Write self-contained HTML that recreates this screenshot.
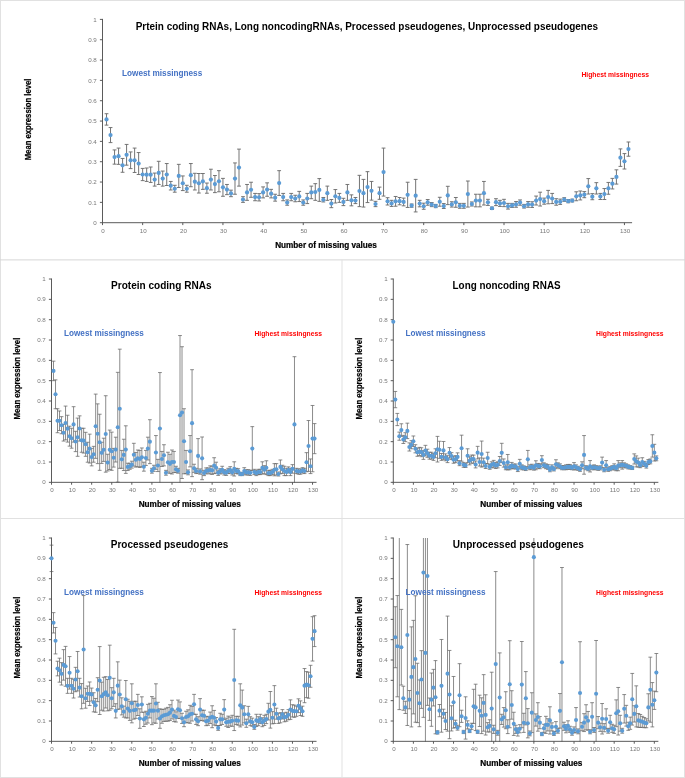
<!DOCTYPE html>
<html lang="en"><head><meta charset="utf-8"><title>Mean expression level vs number of missing values</title>
<style>html,body{margin:0;padding:0;background:#fff}body{width:685px;height:778px;overflow:hidden}svg{display:block}text{font-family:"Liberation Sans",Arial,sans-serif}.tk{font-size:6.2px;fill:#787878}.b{font-weight:bold}.ax{stroke:#525252;stroke-width:0.95;fill:none}.lo{fill:#4472c4;font-weight:bold;font-size:8.8px}.hi{fill:#ff0000;font-weight:bold;font-size:7.9px}.ti{font-weight:bold;font-size:10.2px;fill:#000}.at{font-weight:bold;font-size:8.2px;fill:#000;stroke:#000;stroke-width:0.22px}</style></head><body>
<svg width="685" height="778" viewBox="0 0 685 778">
<rect x="0" y="0" width="685" height="778" fill="#fff"/>
<g stroke="#e1e1e1" stroke-width="1" fill="none"><rect x="0.5" y="0.5" width="684" height="777"/><line x1="0" y1="259.9" x2="685" y2="259.9" stroke="#d6d6d6"/><line x1="0" y1="518.5" x2="685" y2="518.5"/><line x1="342" y1="259.5" x2="342" y2="778"/></g>
<g id="c1">
<clipPath id="cp1"><rect x="99.5" y="19.4" width="535.58" height="203.8"/></clipPath>
<path clip-path="url(#cp1)" d="M106.52 113.73V125.12M104.61 113.73h3.8M104.61 125.12h3.8M110.53 127.56V142.6M108.63 127.56h3.8M108.63 142.6h3.8M114.55 149.92V164.15M112.64 149.92h3.8M112.64 164.15h3.8M118.56 148.09V164.35M116.66 148.09h3.8M116.66 164.35h3.8M122.58 158.46V172.28M120.67 158.46h3.8M120.67 172.28h3.8M126.59 144.43V165.17M124.69 144.43h3.8M124.69 165.17h3.8M130.6 151.95V168.62M128.7 151.95h3.8M128.7 168.62h3.8M134.62 148.09V172.48M132.72 148.09h3.8M132.72 172.48h3.8M138.63 152.56V174.52M136.73 152.56h3.8M136.73 174.52h3.8M142.65 168.42V180.62M140.75 168.42h3.8M140.75 180.62h3.8M146.66 168.01V181.43M144.76 168.01h3.8M144.76 181.43h3.8M150.68 167V182.45M148.78 167h3.8M148.78 182.45h3.8M154.69 173.09V186.11M152.79 173.09h3.8M152.79 186.11h3.8M158.71 161.3V184.48M156.81 161.3h3.8M156.81 184.48h3.8M162.72 171.06V186.11M160.82 171.06h3.8M160.82 186.11h3.8M166.74 163.54V185.5M164.84 163.54h3.8M164.84 185.5h3.8M170.75 181.43V189.97M168.85 181.43h3.8M168.85 189.97h3.8M174.77 185.29V192.2M172.87 185.29h3.8M172.87 192.2h3.8M178.78 164.35V187.53M176.88 164.35h3.8M176.88 187.53h3.8M182.8 175.94V190.58M180.9 175.94h3.8M180.9 190.58h3.8M186.81 185.29V192.2M184.91 185.29h3.8M184.91 192.2h3.8M190.83 163.54V186.72M188.93 163.54h3.8M188.93 186.72h3.8M194.84 173.3V189.97M192.94 173.3h3.8M192.94 189.97h3.8M198.86 173.5V193.02M196.96 173.5h3.8M196.96 193.02h3.8M202.88 173.5V189.36M200.97 173.5h3.8M200.97 189.36h3.8M206.89 183.06V193.22M204.99 183.06h3.8M204.99 193.22h3.8M210.9 169.23V189.97M209 169.23h3.8M209 189.97h3.8M214.92 175.53V192.61M213.02 175.53h3.8M213.02 192.61h3.8M218.94 170.66V191.8M217.03 170.66h3.8M217.03 191.8h3.8M222.95 178.38V196.27M221.05 178.38h3.8M221.05 196.27h3.8M226.96 184.48V194.64M225.06 184.48h3.8M225.06 194.64h3.8M230.98 190.17V196.68M229.08 190.17h3.8M229.08 196.68h3.8M234.99 162.93V194.24M233.09 162.93h3.8M233.09 194.24h3.8M239.01 149.11V186.11M237.11 149.11h3.8M237.11 186.11h3.8M243.02 196.68V202.37M241.12 196.68h3.8M241.12 202.37h3.8M247.04 184.48V200.34M245.14 184.48h3.8M245.14 200.34h3.8M251.05 182.24V197.29M249.15 182.24h3.8M249.15 197.29h3.8M255.07 193.42V200.74M253.17 193.42h3.8M253.17 200.74h3.8M259.08 193.63V200.95M257.19 193.63h3.8M257.19 200.95h3.8M263.1 186.92V197.9M261.2 186.92h3.8M261.2 197.9h3.8M267.12 182.85V196.27M265.22 182.85h3.8M265.22 196.27h3.8M271.13 189.36V197.9M269.23 189.36h3.8M269.23 197.9h3.8M275.14 194.24V201.15M273.25 194.24h3.8M273.25 201.15h3.8M279.16 170.66V195.46M277.26 170.66h3.8M277.26 195.46h3.8M283.17 193.42V200.74M281.27 193.42h3.8M281.27 200.74h3.8M287.19 199.93V205.22M285.29 199.93h3.8M285.29 205.22h3.8M291.2 193.42V200.74M289.31 193.42h3.8M289.31 200.74h3.8M295.22 195.25V201.76M293.32 195.25h3.8M293.32 201.76h3.8M299.24 191.39V201.56M297.34 191.39h3.8M297.34 201.56h3.8M303.25 199.93V205.22M301.35 199.93h3.8M301.35 205.22h3.8M307.26 193.42V203.59M305.37 193.42h3.8M305.37 203.59h3.8M311.28 186.11V198.71M309.38 186.11h3.8M309.38 198.71h3.8M315.29 183.67V200.34M313.39 183.67h3.8M313.39 200.34h3.8M319.31 178.58V201.35M317.41 178.58h3.8M317.41 201.35h3.8M323.32 197.49V201.96M321.43 197.49h3.8M321.43 201.96h3.8M327.34 186.11V200.34M325.44 186.11h3.8M325.44 200.34h3.8M331.36 199.52V207.66M329.46 199.52h3.8M329.46 207.66h3.8M335.37 189.56V202.98M333.47 189.56h3.8M333.47 202.98h3.8M339.38 193.42V202.37M337.49 193.42h3.8M337.49 202.37h3.8M343.4 198.3V205.62M341.5 198.3h3.8M341.5 205.62h3.8M347.41 184.48V200.34M345.51 184.48h3.8M345.51 200.34h3.8M351.43 194.85V205.83M349.53 194.85h3.8M349.53 205.83h3.8M355.44 197.49V203.59M353.55 197.49h3.8M353.55 203.59h3.8M359.46 175.33V206.64M357.56 175.33h3.8M357.56 206.64h3.8M363.47 179.4V207.05M361.57 179.4h3.8M361.57 207.05h3.8M367.49 171.67V202.57M365.59 171.67h3.8M365.59 202.57h3.8M371.5 181.43V200.13M369.61 181.43h3.8M369.61 200.13h3.8M375.52 201.35V206.64M373.62 201.35h3.8M373.62 206.64h3.8M379.53 187.12V199.32M377.63 187.12h3.8M377.63 199.32h3.8M383.55 148.09V196.07M381.65 148.09h3.8M381.65 196.07h3.8M387.56 197.69V205.01M385.67 197.69h3.8M385.67 205.01h3.8M391.58 200.34V206.44M389.68 200.34h3.8M389.68 206.44h3.8M395.59 196.47V206.23M393.69 196.47h3.8M393.69 206.23h3.8M399.61 197.49V204.81M397.71 197.49h3.8M397.71 204.81h3.8M403.62 198.1V205.83M401.73 198.1h3.8M401.73 205.83h3.8M407.64 182.24V207.45M405.74 182.24h3.8M405.74 207.45h3.8M411.65 204V207.25M409.75 204h3.8M409.75 207.25h3.8M415.67 179.4V211.93M413.77 179.4h3.8M413.77 211.93h3.8M419.69 200.34V206.84M417.79 200.34h3.8M417.79 206.84h3.8M423.7 203.18V209.28M421.8 203.18h3.8M421.8 209.28h3.8M427.71 199.52V205.22M425.81 199.52h3.8M425.81 205.22h3.8M431.73 202.57V206.64M429.83 202.57h3.8M429.83 206.64h3.8M435.74 204.4V207.66M433.84 204.4h3.8M433.84 207.66h3.8M439.76 197.29V206.23M437.86 197.29h3.8M437.86 206.23h3.8M443.77 203.59V208.47M441.88 203.59h3.8M441.88 208.47h3.8M447.79 186.31V204.61M445.89 186.31h3.8M445.89 204.61h3.8M451.8 201.76V207.05M449.9 201.76h3.8M449.9 207.05h3.8M455.82 197.49V207.25M453.92 197.49h3.8M453.92 207.25h3.8M459.83 203.39V208.27M457.94 203.39h3.8M457.94 208.27h3.8M463.85 203.39V208.27M461.95 203.39h3.8M461.95 208.27h3.8M467.86 181.02V207.05M465.96 181.02h3.8M465.96 207.05h3.8M471.88 201.96V206.03M469.98 201.96h3.8M469.98 206.03h3.8M475.89 194.24V206.84M474 194.24h3.8M474 206.84h3.8M479.91 194.24V206.84M478.01 194.24h3.8M478.01 206.84h3.8M483.92 181.43V205.01M482.02 181.43h3.8M482.02 205.01h3.8M487.94 199.32V205.42M486.04 199.32h3.8M486.04 205.42h3.8M491.95 207.05V209.49M490.06 207.05h3.8M490.06 209.49h3.8M495.97 198.71V205.62M494.07 198.71h3.8M494.07 205.62h3.8M499.98 200.34V206.44M498.08 200.34h3.8M498.08 206.44h3.8M504 199.32V206.64M502.1 199.32h3.8M502.1 206.64h3.8M508.01 203.39V209.08M506.12 203.39h3.8M506.12 209.08h3.8M512.03 203.39V207.45M510.13 203.39h3.8M510.13 207.45h3.8M516.04 201.56V207.25M514.14 201.56h3.8M514.14 207.25h3.8M520.06 199.93V205.22M518.16 199.93h3.8M518.16 205.22h3.8M524.08 204.4V208.06M522.18 204.4h3.8M522.18 208.06h3.8M528.09 201.56V207.25M526.19 201.56h3.8M526.19 207.25h3.8M532.11 201.76V207.45M530.21 201.76h3.8M530.21 207.45h3.8M536.12 196.07V205.01M534.22 196.07h3.8M534.22 205.01h3.8M540.13 192.2V206.03M538.24 192.2h3.8M538.24 206.03h3.8M544.15 198.1V204.2M542.25 198.1h3.8M542.25 204.2h3.8M548.16 190.38V203.79M546.26 190.38h3.8M546.26 203.79h3.8M552.18 193.42V203.59M550.28 193.42h3.8M550.28 203.59h3.8M556.19 198.71V205.22M554.29 198.71h3.8M554.29 205.22h3.8M560.21 199.12V204.4M558.31 199.12h3.8M558.31 204.4h3.8M564.22 197.69V201.35M562.32 197.69h3.8M562.32 201.35h3.8M568.24 199.52V202.78M566.34 199.52h3.8M566.34 202.78h3.8M572.25 199.12V201.96M570.35 199.12h3.8M570.35 201.96h3.8M576.27 191.8V200.74M574.37 191.8h3.8M574.37 200.74h3.8M580.28 190.99V199.93M578.38 190.99h3.8M578.38 199.93h3.8M584.3 191.6V197.69M582.4 191.6h3.8M582.4 197.69h3.8M588.31 178.58V194.03M586.41 178.58h3.8M586.41 194.03h3.8M592.33 193.63V199.73M590.43 193.63h3.8M590.43 199.73h3.8M596.35 182.65V194.03M594.45 182.65h3.8M594.45 194.03h3.8M600.36 193.42V199.52M598.46 193.42h3.8M598.46 199.52h3.8M604.38 188.55V199.52M602.48 188.55h3.8M602.48 199.52h3.8M608.39 182.45V194.24M606.49 182.45h3.8M606.49 194.24h3.8M612.4 178.38V188.95M610.5 178.38h3.8M610.5 188.95h3.8M616.42 169.84V184.07M614.52 169.84h3.8M614.52 184.07h3.8M620.43 148.9V166.39M618.53 148.9h3.8M618.53 166.39h3.8M624.45 153.58V169.03M622.55 153.58h3.8M622.55 169.03h3.8M628.46 141.99V156.22M626.56 141.99h3.8M626.56 156.22h3.8" stroke="#6e6e6e" stroke-width="0.95" fill="none"/>
<path class="ax" d="M102.5 18.9V222.7M102 222.7H632.08M99.9 222.7H102.5M99.9 202.37H102.5M99.9 182.04H102.5M99.9 161.71H102.5M99.9 141.38H102.5M99.9 121.05H102.5M99.9 100.72H102.5M99.9 80.39H102.5M99.9 60.06H102.5M99.9 39.73H102.5M99.9 19.4H102.5M102.5 222.7V225.1M142.65 222.7V225.1M182.8 222.7V225.1M222.95 222.7V225.1M263.1 222.7V225.1M303.25 222.7V225.1M343.4 222.7V225.1M383.55 222.7V225.1M423.7 222.7V225.1M463.85 222.7V225.1M504 222.7V225.1M544.15 222.7V225.1M584.3 222.7V225.1M624.45 222.7V225.1"/>
<g fill="#5b9bd5" clip-path="url(#cp1)">
<circle cx="106.52" cy="119.42" r="2.1"/>
<circle cx="110.53" cy="135.08" r="2.1"/>
<circle cx="114.55" cy="157.03" r="2.1"/>
<circle cx="118.56" cy="156.22" r="2.1"/>
<circle cx="122.58" cy="165.37" r="2.1"/>
<circle cx="126.59" cy="154.8" r="2.1"/>
<circle cx="130.6" cy="160.29" r="2.1"/>
<circle cx="134.62" cy="160.29" r="2.1"/>
<circle cx="138.63" cy="163.54" r="2.1"/>
<circle cx="142.65" cy="174.52" r="2.1"/>
<circle cx="146.66" cy="174.72" r="2.1"/>
<circle cx="150.68" cy="174.72" r="2.1"/>
<circle cx="154.69" cy="179.6" r="2.1"/>
<circle cx="158.71" cy="172.89" r="2.1"/>
<circle cx="162.72" cy="178.58" r="2.1"/>
<circle cx="166.74" cy="174.52" r="2.1"/>
<circle cx="170.75" cy="185.7" r="2.1"/>
<circle cx="174.77" cy="188.75" r="2.1"/>
<circle cx="178.78" cy="175.94" r="2.1"/>
<circle cx="182.8" cy="183.26" r="2.1"/>
<circle cx="186.81" cy="188.75" r="2.1"/>
<circle cx="190.83" cy="175.13" r="2.1"/>
<circle cx="194.84" cy="181.63" r="2.1"/>
<circle cx="198.86" cy="183.26" r="2.1"/>
<circle cx="202.88" cy="181.43" r="2.1"/>
<circle cx="206.89" cy="188.14" r="2.1"/>
<circle cx="210.9" cy="179.6" r="2.1"/>
<circle cx="214.92" cy="184.07" r="2.1"/>
<circle cx="218.94" cy="181.23" r="2.1"/>
<circle cx="222.95" cy="187.33" r="2.1"/>
<circle cx="226.96" cy="189.56" r="2.1"/>
<circle cx="230.98" cy="193.42" r="2.1"/>
<circle cx="234.99" cy="178.58" r="2.1"/>
<circle cx="239.01" cy="167.61" r="2.1"/>
<circle cx="243.02" cy="199.52" r="2.1"/>
<circle cx="247.04" cy="192.41" r="2.1"/>
<circle cx="251.05" cy="189.77" r="2.1"/>
<circle cx="255.07" cy="197.08" r="2.1"/>
<circle cx="259.08" cy="197.29" r="2.1"/>
<circle cx="263.1" cy="192.41" r="2.1"/>
<circle cx="267.12" cy="189.56" r="2.1"/>
<circle cx="271.13" cy="193.63" r="2.1"/>
<circle cx="275.14" cy="197.69" r="2.1"/>
<circle cx="279.16" cy="183.06" r="2.1"/>
<circle cx="283.17" cy="197.08" r="2.1"/>
<circle cx="287.19" cy="202.57" r="2.1"/>
<circle cx="291.2" cy="197.08" r="2.1"/>
<circle cx="295.22" cy="198.51" r="2.1"/>
<circle cx="299.24" cy="196.47" r="2.1"/>
<circle cx="303.25" cy="202.57" r="2.1"/>
<circle cx="307.26" cy="198.51" r="2.1"/>
<circle cx="311.28" cy="192.41" r="2.1"/>
<circle cx="315.29" cy="192" r="2.1"/>
<circle cx="319.31" cy="189.97" r="2.1"/>
<circle cx="323.32" cy="199.73" r="2.1"/>
<circle cx="327.34" cy="193.22" r="2.1"/>
<circle cx="331.36" cy="203.59" r="2.1"/>
<circle cx="335.37" cy="196.27" r="2.1"/>
<circle cx="339.38" cy="197.9" r="2.1"/>
<circle cx="343.4" cy="201.96" r="2.1"/>
<circle cx="347.41" cy="192.41" r="2.1"/>
<circle cx="351.43" cy="200.34" r="2.1"/>
<circle cx="355.44" cy="200.54" r="2.1"/>
<circle cx="359.46" cy="190.99" r="2.1"/>
<circle cx="363.47" cy="193.22" r="2.1"/>
<circle cx="367.49" cy="187.12" r="2.1"/>
<circle cx="371.5" cy="190.78" r="2.1"/>
<circle cx="375.52" cy="204" r="2.1"/>
<circle cx="379.53" cy="193.22" r="2.1"/>
<circle cx="383.55" cy="172.08" r="2.1"/>
<circle cx="387.56" cy="201.35" r="2.1"/>
<circle cx="391.58" cy="203.39" r="2.1"/>
<circle cx="395.59" cy="201.35" r="2.1"/>
<circle cx="399.61" cy="201.15" r="2.1"/>
<circle cx="403.62" cy="201.96" r="2.1"/>
<circle cx="407.64" cy="194.85" r="2.1"/>
<circle cx="411.65" cy="205.62" r="2.1"/>
<circle cx="415.67" cy="195.66" r="2.1"/>
<circle cx="419.69" cy="203.59" r="2.1"/>
<circle cx="423.7" cy="206.23" r="2.1"/>
<circle cx="427.71" cy="202.37" r="2.1"/>
<circle cx="431.73" cy="204.61" r="2.1"/>
<circle cx="435.74" cy="206.03" r="2.1"/>
<circle cx="439.76" cy="201.76" r="2.1"/>
<circle cx="443.77" cy="206.03" r="2.1"/>
<circle cx="447.79" cy="195.46" r="2.1"/>
<circle cx="451.8" cy="204.4" r="2.1"/>
<circle cx="455.82" cy="202.37" r="2.1"/>
<circle cx="459.83" cy="205.83" r="2.1"/>
<circle cx="463.85" cy="205.83" r="2.1"/>
<circle cx="467.86" cy="194.03" r="2.1"/>
<circle cx="471.88" cy="204" r="2.1"/>
<circle cx="475.89" cy="200.54" r="2.1"/>
<circle cx="479.91" cy="200.54" r="2.1"/>
<circle cx="483.92" cy="193.22" r="2.1"/>
<circle cx="487.94" cy="202.37" r="2.1"/>
<circle cx="491.95" cy="208.27" r="2.1"/>
<circle cx="495.97" cy="202.17" r="2.1"/>
<circle cx="499.98" cy="203.39" r="2.1"/>
<circle cx="504" cy="202.98" r="2.1"/>
<circle cx="508.01" cy="206.23" r="2.1"/>
<circle cx="512.03" cy="205.42" r="2.1"/>
<circle cx="516.04" cy="204.4" r="2.1"/>
<circle cx="520.06" cy="202.57" r="2.1"/>
<circle cx="524.08" cy="206.23" r="2.1"/>
<circle cx="528.09" cy="204.4" r="2.1"/>
<circle cx="532.11" cy="204.61" r="2.1"/>
<circle cx="536.12" cy="200.54" r="2.1"/>
<circle cx="540.13" cy="199.12" r="2.1"/>
<circle cx="544.15" cy="201.15" r="2.1"/>
<circle cx="548.16" cy="197.08" r="2.1"/>
<circle cx="552.18" cy="198.51" r="2.1"/>
<circle cx="556.19" cy="201.96" r="2.1"/>
<circle cx="560.21" cy="201.76" r="2.1"/>
<circle cx="564.22" cy="199.52" r="2.1"/>
<circle cx="568.24" cy="201.15" r="2.1"/>
<circle cx="572.25" cy="200.54" r="2.1"/>
<circle cx="576.27" cy="196.27" r="2.1"/>
<circle cx="580.28" cy="195.46" r="2.1"/>
<circle cx="584.3" cy="194.64" r="2.1"/>
<circle cx="588.31" cy="186.31" r="2.1"/>
<circle cx="592.33" cy="196.68" r="2.1"/>
<circle cx="596.35" cy="188.34" r="2.1"/>
<circle cx="600.36" cy="196.47" r="2.1"/>
<circle cx="604.38" cy="194.03" r="2.1"/>
<circle cx="608.39" cy="188.34" r="2.1"/>
<circle cx="612.4" cy="183.67" r="2.1"/>
<circle cx="616.42" cy="176.96" r="2.1"/>
<circle cx="620.43" cy="157.64" r="2.1"/>
<circle cx="624.45" cy="161.3" r="2.1"/>
<circle cx="628.46" cy="149.11" r="2.1"/>
</g>
<g class="tk" text-anchor="end">
<text x="96.8" y="225">0</text>
<text x="96.8" y="204.67">0.1</text>
<text x="96.8" y="184.34">0.2</text>
<text x="96.8" y="164.01">0.3</text>
<text x="96.8" y="143.68">0.4</text>
<text x="96.8" y="123.35">0.5</text>
<text x="96.8" y="103.02">0.6</text>
<text x="96.8" y="82.69">0.7</text>
<text x="96.8" y="62.36">0.8</text>
<text x="96.8" y="42.03">0.9</text>
<text x="96.8" y="21.7">1</text>
</g><g class="tk" text-anchor="middle">
<text x="103.1" y="232.9">0</text>
<text x="143.25" y="232.9">10</text>
<text x="183.4" y="232.9">20</text>
<text x="223.55" y="232.9">30</text>
<text x="263.7" y="232.9">40</text>
<text x="303.85" y="232.9">50</text>
<text x="344" y="232.9">60</text>
<text x="384.15" y="232.9">70</text>
<text x="424.3" y="232.9">80</text>
<text x="464.45" y="232.9">90</text>
<text x="504.6" y="232.9">100</text>
<text x="544.75" y="232.9">110</text>
<text x="584.9" y="232.9">120</text>
<text x="625.05" y="232.9">130</text>
</g>
</g>
<text class="ti" x="135.7" y="30" textLength="462.3" lengthAdjust="spacingAndGlyphs">Prtein coding RNAs, Long noncodingRNAs, Processed pseudogenes, Unprocessed pseudogenes</text>
<text class="lo" x="122" y="76.4" textLength="80.2" lengthAdjust="spacingAndGlyphs">Lowest missingness</text>
<text class="hi" x="581.4" y="76.6" textLength="67.6" lengthAdjust="spacingAndGlyphs">Highest missingness</text>
<text class="at" transform="translate(31.2 160.3) rotate(-90)" textLength="81.8" lengthAdjust="spacingAndGlyphs">Mean expression level</text>
<text class="at" x="275.2" y="247.9" textLength="101.7" lengthAdjust="spacingAndGlyphs">Number of missing values</text>
<g id="c2">
<clipPath id="cp2"><rect x="48.5" y="279.03" width="271.06" height="203.8"/></clipPath>
<path clip-path="url(#cp2)" d="M53.51 361.16V380.68M51.61 361.16h3.8M51.61 380.68h3.8M55.52 379.87V408.74M53.62 379.87h3.8M53.62 408.74h3.8M57.52 408.74V432.72M55.62 408.74h3.8M55.62 432.72h3.8M59.53 410.97V430.49M57.63 410.97h3.8M57.63 430.49h3.8M61.54 416.66V433.74M59.64 416.66h3.8M59.64 433.74h3.8M63.55 424.39V441.06M61.65 424.39h3.8M61.65 441.06h3.8M65.56 406.09V439.84M63.66 406.09h3.8M63.66 439.84h3.8M67.56 415.24V442.08M65.66 415.24h3.8M65.66 442.08h3.8M69.57 426.22V446.14M67.67 426.22h3.8M67.67 446.14h3.8M71.58 428.25V448.18M69.68 428.25h3.8M69.68 448.18h3.8M73.59 406.7V442.08M71.69 406.7h3.8M71.69 442.08h3.8M75.6 431.3V451.63M73.7 431.3h3.8M73.7 451.63h3.8M77.6 418.09V456.31M75.7 418.09h3.8M75.7 456.31h3.8M79.61 415.85V441.06M77.71 415.85h3.8M77.71 441.06h3.8M81.62 428.25V452.24M79.72 428.25h3.8M79.72 452.24h3.8M83.63 428.25V453.05M81.73 428.25h3.8M81.73 453.05h3.8M85.64 432.32V456.31M83.74 432.32h3.8M83.74 456.31h3.8M87.64 442.28V462.2M85.74 442.28h3.8M85.74 462.2h3.8M89.65 434.15V463.02M87.75 434.15h3.8M87.75 463.02h3.8M91.66 448.38V465.86M89.76 448.38h3.8M89.76 465.86h3.8M93.67 446.35V462.2M91.77 446.35h3.8M91.77 462.2h3.8M95.68 394.1V458.34M93.78 394.1h3.8M93.78 458.34h3.8M97.68 403.86V463.63M95.78 403.86h3.8M95.78 463.63h3.8M99.69 414.22V470.34M97.79 414.22h3.8M97.79 470.34h3.8M101.7 442.28V463.42M99.8 442.28h3.8M99.8 463.42h3.8M103.71 438.21V461.39M101.81 438.21h3.8M101.81 461.39h3.8M105.72 395.72V472.16M103.82 395.72h3.8M103.82 472.16h3.8M107.72 454.27V470.95M105.82 454.27h3.8M105.82 470.95h3.8M109.73 430.08V469.52M107.83 430.08h3.8M107.83 469.52h3.8M111.74 432.11V470.34M109.84 432.11h3.8M109.84 470.34h3.8M113.75 448.38V467.08M111.85 448.38h3.8M111.85 467.08h3.8M115.76 437.2V462M113.86 437.2h3.8M113.86 462h3.8M117.76 372.34V482.13M115.86 372.34h3.8M115.86 482.13h3.8M119.77 349.17V468.3M117.87 349.17h3.8M117.87 468.3h3.8M121.78 450.41V468.3M119.88 450.41h3.8M119.88 468.3h3.8M123.79 439.23V470.54M121.89 439.23h3.8M121.89 470.54h3.8M125.8 425.81V473.38M123.9 425.81h3.8M123.9 473.38h3.8M127.8 463.22V470.54M125.9 463.22h3.8M125.9 470.54h3.8M129.81 463.22V469.32M127.91 463.22h3.8M127.91 469.32h3.8M131.82 461.19V468.1M129.92 461.19h3.8M129.92 468.1h3.8M133.83 443.3V466.07M131.93 443.3h3.8M131.93 466.07h3.8M135.84 452.44V467.08M133.94 452.44h3.8M133.94 467.08h3.8M137.84 450.01V466.68M135.94 450.01h3.8M135.94 466.68h3.8M139.85 450.41V467.49M137.95 450.41h3.8M137.95 467.49h3.8M141.86 447.97V466.68M139.96 447.97h3.8M139.96 466.68h3.8M143.87 462.2V471.15M141.97 462.2h3.8M141.97 471.15h3.8M145.88 450.41V465.46M143.98 450.41h3.8M143.98 465.46h3.8M147.88 437.2V459.97M145.98 437.2h3.8M145.98 459.97h3.8M149.89 419.71V463.63M147.99 419.71h3.8M147.99 463.63h3.8M151.9 468.3V473.18M150 468.3h3.8M150 473.18h3.8M153.91 465.25V471.35M152.01 465.25h3.8M152.01 471.35h3.8M155.92 435.57V469.32M154.02 435.57h3.8M154.02 469.32h3.8M157.92 459.36V471.56M156.02 459.36h3.8M156.02 471.56h3.8M159.93 372.55V484.36M158.03 372.55h3.8M158.03 484.36h3.8M161.94 451.43V466.47M160.04 451.43h3.8M160.04 466.47h3.8M163.95 444.72V465.86M162.05 444.72h3.8M162.05 465.86h3.8M165.96 470.34V475.21M164.06 470.34h3.8M164.06 475.21h3.8M167.96 452.24V472.16M166.06 452.24h3.8M166.06 472.16h3.8M169.97 454.27V473.38M168.07 454.27h3.8M168.07 473.38h3.8M171.98 450.01V473.99M170.08 450.01h3.8M170.08 473.99h3.8M173.99 451.43V472.57M172.09 451.43h3.8M172.09 472.57h3.8M176 466.27V472.37M174.1 466.27h3.8M174.1 472.37h3.8M178 468.3V473.18M176.1 468.3h3.8M176.1 473.18h3.8M180.01 335.55V494.93M178.11 335.55h3.8M178.11 494.93h3.8M182.02 346.73V478.47M180.12 346.73h3.8M180.12 478.47h3.8M184.03 408.74V473.79M182.13 408.74h3.8M182.13 473.79h3.8M186.04 450.41V473.59M184.14 450.41h3.8M184.14 473.59h3.8M188.04 469.93V474.81M186.14 469.93h3.8M186.14 474.81h3.8M190.05 435.57V466.88M188.15 435.57h3.8M188.15 466.88h3.8M192.06 369.7V476.64M190.16 369.7h3.8M190.16 476.64h3.8M194.07 464.24V472.37M192.17 464.24h3.8M192.17 472.37h3.8M196.08 468.3V473.59M194.18 468.3h3.8M194.18 473.59h3.8M198.08 438.62V473.18M196.18 438.62h3.8M196.18 473.18h3.8M200.09 468.91V474.2M198.19 468.91h3.8M198.19 474.2h3.8M202.1 436.99V479.69M200.2 436.99h3.8M200.2 479.69h3.8M204.11 470.34V475.62M202.21 470.34h3.8M202.21 475.62h3.8M206.12 467.9V473.99M204.22 467.9h3.8M204.22 473.99h3.8M208.12 467.9V473.18M206.22 467.9h3.8M206.22 473.18h3.8M210.13 465.86V473.99M208.23 465.86h3.8M208.23 473.99h3.8M212.14 466.27V474.4M210.24 466.27h3.8M210.24 474.4h3.8M214.15 457.73V473.59M212.25 457.73h3.8M212.25 473.59h3.8M216.16 462.2V473.18M214.26 462.2h3.8M214.26 473.18h3.8M218.16 470.13V475.42M216.26 470.13h3.8M216.26 475.42h3.8M220.17 468.71V473.99M218.27 468.71h3.8M218.27 473.99h3.8M222.18 466.27V473.18M220.28 466.27h3.8M220.28 473.18h3.8M224.19 469.73V475.01M222.29 469.73h3.8M222.29 475.01h3.8M226.2 470.13V475.42M224.3 470.13h3.8M224.3 475.42h3.8M228.2 468.3V473.59M226.3 468.3h3.8M226.3 473.59h3.8M230.21 466.68V473.18M228.31 466.68h3.8M228.31 473.18h3.8M232.22 469.73V475.01M230.32 469.73h3.8M230.32 475.01h3.8M234.23 461.8V476.03M232.33 461.8h3.8M232.33 476.03h3.8M236.24 468.3V473.59M234.34 468.3h3.8M234.34 473.59h3.8M238.24 468.71V473.99M236.34 468.71h3.8M236.34 473.99h3.8M240.25 472.37V475.62M238.35 472.37h3.8M238.35 475.62h3.8M242.26 472.37V475.62M240.36 472.37h3.8M240.36 475.62h3.8M244.27 467.69V474.2M242.37 467.69h3.8M242.37 474.2h3.8M246.28 469.73V475.01M244.38 469.73h3.8M244.38 475.01h3.8M248.28 469.73V475.01M246.38 469.73h3.8M246.38 475.01h3.8M250.29 470.13V475.42M248.39 470.13h3.8M248.39 475.42h3.8M252.3 426.63V470.54M250.4 426.63h3.8M250.4 470.54h3.8M254.31 469.32V474.6M252.41 469.32h3.8M252.41 474.6h3.8M256.32 470.34V475.62M254.42 470.34h3.8M254.42 475.62h3.8M258.32 469.32V474.6M256.42 469.32h3.8M256.42 474.6h3.8M260.33 469.32V474.6M258.43 469.32h3.8M258.43 474.6h3.8M262.34 461.8V473.99M260.44 461.8h3.8M260.44 473.99h3.8M264.35 465.66V473.79M262.45 465.66h3.8M262.45 473.79h3.8M266.36 460.78V474.6M264.46 460.78h3.8M264.46 474.6h3.8M268.36 470.34V475.62M266.46 470.34h3.8M266.46 475.62h3.8M270.37 470.34V475.62M268.47 470.34h3.8M268.47 475.62h3.8M272.38 469.32V474.6M270.48 469.32h3.8M270.48 474.6h3.8M274.39 463.63V475.82M272.49 463.63h3.8M272.49 475.82h3.8M276.4 463.63V475.01M274.5 463.63h3.8M274.5 475.01h3.8M278.4 471.96V476.03M276.5 471.96h3.8M276.5 476.03h3.8M280.41 459.97V473.79M278.51 459.97h3.8M278.51 473.79h3.8M282.42 465.25V473.38M280.52 465.25h3.8M280.52 473.38h3.8M284.43 466.27V475.62M282.53 466.27h3.8M282.53 475.62h3.8M286.44 468.3V475.62M284.54 468.3h3.8M284.54 475.62h3.8M288.44 466.88V472.98M286.54 466.88h3.8M286.54 472.98h3.8M290.45 468.3V475.62M288.55 468.3h3.8M288.55 475.62h3.8M292.46 464.64V473.18M290.56 464.64h3.8M290.56 473.18h3.8M294.47 356.69V492.09M292.57 356.69h3.8M292.57 492.09h3.8M296.48 468.3V473.59M294.58 468.3h3.8M294.58 473.59h3.8M298.48 468.91V474.2M296.58 468.91h3.8M296.58 474.2h3.8M300.49 468.91V474.2M298.59 468.91h3.8M298.59 474.2h3.8M302.5 467.69V472.98M300.6 467.69h3.8M300.6 472.98h3.8M304.51 468.3V473.59M302.61 468.3h3.8M302.61 473.59h3.8M306.52 452.65V471.76M304.62 452.65h3.8M304.62 471.76h3.8M308.52 420.53V471.35M306.62 420.53h3.8M306.62 471.35h3.8M310.53 458.95V473.59M308.63 458.95h3.8M308.63 473.59h3.8M312.54 405.48V471.76M310.64 405.48h3.8M310.64 471.76h3.8M314.55 423.58V453.66M312.65 423.58h3.8M312.65 453.66h3.8" stroke="#666" stroke-width="0.75" fill="none"/>
<path class="ax" d="M51.5 278.53V482.33M51 482.33H316.56M48.9 482.33H51.5M48.9 462H51.5M48.9 441.67H51.5M48.9 421.34H51.5M48.9 401.01H51.5M48.9 380.68H51.5M48.9 360.35H51.5M48.9 340.02H51.5M48.9 319.69H51.5M48.9 299.36H51.5M48.9 279.03H51.5M51.5 482.33V484.73M71.58 482.33V484.73M91.66 482.33V484.73M111.74 482.33V484.73M131.82 482.33V484.73M151.9 482.33V484.73M171.98 482.33V484.73M192.06 482.33V484.73M212.14 482.33V484.73M232.22 482.33V484.73M252.3 482.33V484.73M272.38 482.33V484.73M292.46 482.33V484.73M312.54 482.33V484.73"/>
<g fill="#5b9bd5" clip-path="url(#cp2)">
<circle cx="53.51" cy="370.92" r="2.05"/>
<circle cx="55.52" cy="394.3" r="2.05"/>
<circle cx="57.52" cy="420.73" r="2.05"/>
<circle cx="59.53" cy="420.73" r="2.05"/>
<circle cx="61.54" cy="425.2" r="2.05"/>
<circle cx="63.55" cy="432.72" r="2.05"/>
<circle cx="65.56" cy="422.97" r="2.05"/>
<circle cx="67.56" cy="428.66" r="2.05"/>
<circle cx="69.57" cy="436.18" r="2.05"/>
<circle cx="71.58" cy="438.21" r="2.05"/>
<circle cx="73.59" cy="424.39" r="2.05"/>
<circle cx="75.6" cy="441.47" r="2.05"/>
<circle cx="77.6" cy="437.2" r="2.05"/>
<circle cx="79.61" cy="428.46" r="2.05"/>
<circle cx="81.62" cy="440.25" r="2.05"/>
<circle cx="83.63" cy="440.65" r="2.05"/>
<circle cx="85.64" cy="444.31" r="2.05"/>
<circle cx="87.64" cy="452.24" r="2.05"/>
<circle cx="89.65" cy="448.58" r="2.05"/>
<circle cx="91.66" cy="457.12" r="2.05"/>
<circle cx="93.67" cy="454.27" r="2.05"/>
<circle cx="95.68" cy="426.22" r="2.05"/>
<circle cx="97.68" cy="433.74" r="2.05"/>
<circle cx="99.69" cy="442.28" r="2.05"/>
<circle cx="101.7" cy="452.85" r="2.05"/>
<circle cx="103.71" cy="449.8" r="2.05"/>
<circle cx="105.72" cy="433.94" r="2.05"/>
<circle cx="107.72" cy="462.61" r="2.05"/>
<circle cx="109.73" cy="449.8" r="2.05"/>
<circle cx="111.74" cy="451.23" r="2.05"/>
<circle cx="113.75" cy="457.73" r="2.05"/>
<circle cx="115.76" cy="449.6" r="2.05"/>
<circle cx="117.76" cy="427.24" r="2.05"/>
<circle cx="119.77" cy="408.74" r="2.05"/>
<circle cx="121.78" cy="459.36" r="2.05"/>
<circle cx="123.79" cy="454.88" r="2.05"/>
<circle cx="125.8" cy="449.6" r="2.05"/>
<circle cx="127.8" cy="466.88" r="2.05"/>
<circle cx="129.81" cy="466.27" r="2.05"/>
<circle cx="131.82" cy="464.64" r="2.05"/>
<circle cx="133.83" cy="454.68" r="2.05"/>
<circle cx="135.84" cy="459.76" r="2.05"/>
<circle cx="137.84" cy="458.34" r="2.05"/>
<circle cx="139.85" cy="458.95" r="2.05"/>
<circle cx="141.86" cy="457.32" r="2.05"/>
<circle cx="143.87" cy="466.68" r="2.05"/>
<circle cx="145.88" cy="457.93" r="2.05"/>
<circle cx="147.88" cy="448.58" r="2.05"/>
<circle cx="149.89" cy="441.67" r="2.05"/>
<circle cx="151.9" cy="470.74" r="2.05"/>
<circle cx="153.91" cy="468.3" r="2.05"/>
<circle cx="155.92" cy="452.44" r="2.05"/>
<circle cx="157.92" cy="465.46" r="2.05"/>
<circle cx="159.93" cy="428.46" r="2.05"/>
<circle cx="161.94" cy="458.95" r="2.05"/>
<circle cx="163.95" cy="455.29" r="2.05"/>
<circle cx="165.96" cy="472.77" r="2.05"/>
<circle cx="167.96" cy="462.2" r="2.05"/>
<circle cx="169.97" cy="463.83" r="2.05"/>
<circle cx="171.98" cy="462" r="2.05"/>
<circle cx="173.99" cy="462" r="2.05"/>
<circle cx="176" cy="469.32" r="2.05"/>
<circle cx="178" cy="470.74" r="2.05"/>
<circle cx="180.01" cy="415.24" r="2.05"/>
<circle cx="182.02" cy="412.6" r="2.05"/>
<circle cx="184.03" cy="441.26" r="2.05"/>
<circle cx="186.04" cy="462" r="2.05"/>
<circle cx="188.04" cy="472.37" r="2.05"/>
<circle cx="190.05" cy="451.23" r="2.05"/>
<circle cx="192.06" cy="423.17" r="2.05"/>
<circle cx="194.07" cy="468.3" r="2.05"/>
<circle cx="196.08" cy="470.95" r="2.05"/>
<circle cx="198.08" cy="455.9" r="2.05"/>
<circle cx="200.09" cy="471.56" r="2.05"/>
<circle cx="202.1" cy="458.34" r="2.05"/>
<circle cx="204.11" cy="472.98" r="2.05"/>
<circle cx="206.12" cy="470.95" r="2.05"/>
<circle cx="208.12" cy="470.54" r="2.05"/>
<circle cx="210.13" cy="469.93" r="2.05"/>
<circle cx="212.14" cy="470.34" r="2.05"/>
<circle cx="214.15" cy="465.66" r="2.05"/>
<circle cx="216.16" cy="467.69" r="2.05"/>
<circle cx="218.16" cy="472.77" r="2.05"/>
<circle cx="220.17" cy="471.35" r="2.05"/>
<circle cx="222.18" cy="469.73" r="2.05"/>
<circle cx="224.19" cy="472.37" r="2.05"/>
<circle cx="226.2" cy="472.77" r="2.05"/>
<circle cx="228.2" cy="470.95" r="2.05"/>
<circle cx="230.21" cy="469.93" r="2.05"/>
<circle cx="232.22" cy="472.37" r="2.05"/>
<circle cx="234.23" cy="468.91" r="2.05"/>
<circle cx="236.24" cy="470.95" r="2.05"/>
<circle cx="238.24" cy="471.35" r="2.05"/>
<circle cx="240.25" cy="473.99" r="2.05"/>
<circle cx="242.26" cy="473.99" r="2.05"/>
<circle cx="244.27" cy="470.95" r="2.05"/>
<circle cx="246.28" cy="472.37" r="2.05"/>
<circle cx="248.28" cy="472.37" r="2.05"/>
<circle cx="250.29" cy="472.77" r="2.05"/>
<circle cx="252.3" cy="448.58" r="2.05"/>
<circle cx="254.31" cy="471.96" r="2.05"/>
<circle cx="256.32" cy="472.98" r="2.05"/>
<circle cx="258.32" cy="471.96" r="2.05"/>
<circle cx="260.33" cy="471.96" r="2.05"/>
<circle cx="262.34" cy="467.9" r="2.05"/>
<circle cx="264.35" cy="469.73" r="2.05"/>
<circle cx="266.36" cy="467.69" r="2.05"/>
<circle cx="268.36" cy="472.98" r="2.05"/>
<circle cx="270.37" cy="472.98" r="2.05"/>
<circle cx="272.38" cy="471.96" r="2.05"/>
<circle cx="274.39" cy="469.73" r="2.05"/>
<circle cx="276.4" cy="469.32" r="2.05"/>
<circle cx="278.4" cy="473.99" r="2.05"/>
<circle cx="280.41" cy="466.88" r="2.05"/>
<circle cx="282.42" cy="469.32" r="2.05"/>
<circle cx="284.43" cy="470.95" r="2.05"/>
<circle cx="286.44" cy="471.96" r="2.05"/>
<circle cx="288.44" cy="469.93" r="2.05"/>
<circle cx="290.45" cy="471.96" r="2.05"/>
<circle cx="292.46" cy="468.91" r="2.05"/>
<circle cx="294.47" cy="424.39" r="2.05"/>
<circle cx="296.48" cy="470.95" r="2.05"/>
<circle cx="298.48" cy="471.56" r="2.05"/>
<circle cx="300.49" cy="471.56" r="2.05"/>
<circle cx="302.5" cy="470.34" r="2.05"/>
<circle cx="304.51" cy="470.95" r="2.05"/>
<circle cx="306.52" cy="462.2" r="2.05"/>
<circle cx="308.52" cy="445.94" r="2.05"/>
<circle cx="310.53" cy="466.27" r="2.05"/>
<circle cx="312.54" cy="438.62" r="2.05"/>
<circle cx="314.55" cy="438.62" r="2.05"/>
</g>
<g class="tk" text-anchor="end">
<text x="45.8" y="484.38">0</text>
<text x="45.8" y="464.05">0.1</text>
<text x="45.8" y="443.72">0.2</text>
<text x="45.8" y="423.39">0.3</text>
<text x="45.8" y="403.06">0.4</text>
<text x="45.8" y="382.73">0.5</text>
<text x="45.8" y="362.4">0.6</text>
<text x="45.8" y="342.07">0.7</text>
<text x="45.8" y="321.74">0.8</text>
<text x="45.8" y="301.41">0.9</text>
<text x="45.8" y="281.08">1</text>
</g><g class="tk" text-anchor="middle">
<text x="52.1" y="492.28">0</text>
<text x="72.18" y="492.28">10</text>
<text x="92.26" y="492.28">20</text>
<text x="112.34" y="492.28">30</text>
<text x="132.42" y="492.28">40</text>
<text x="152.5" y="492.28">50</text>
<text x="172.58" y="492.28">60</text>
<text x="192.66" y="492.28">70</text>
<text x="212.74" y="492.28">80</text>
<text x="232.82" y="492.28">90</text>
<text x="252.9" y="492.28">100</text>
<text x="272.98" y="492.28">110</text>
<text x="293.06" y="492.28">120</text>
<text x="313.14" y="492.28">130</text>
</g>
</g>
<text class="ti" x="111.1" y="288.7" textLength="100.4" lengthAdjust="spacingAndGlyphs">Protein coding RNAs</text>
<text class="lo" x="64" y="336.2" textLength="79.9" lengthAdjust="spacingAndGlyphs">Lowest missingness</text>
<text class="hi" x="254.5" y="336.2" textLength="67.5" lengthAdjust="spacingAndGlyphs">Highest missingness</text>
<text class="at" transform="translate(20.1 419.5) rotate(-90)" textLength="81.8" lengthAdjust="spacingAndGlyphs">Mean expression level</text>
<text class="at" x="138.7" y="507.2" textLength="102.1" lengthAdjust="spacingAndGlyphs">Number of missing values</text>
<g id="c3">
<clipPath id="cp3"><rect x="390.3" y="279.03" width="271.06" height="203.8"/></clipPath>
<path clip-path="url(#cp3)" d="M395.31 391.45V407.72M393.41 391.45h3.8M393.41 407.72h3.8M397.32 413.41V425.61M395.42 413.41h3.8M395.42 425.61h3.8M399.32 432.11V440.25M397.42 432.11h3.8M397.42 440.25h3.8M401.33 423.78V436.38M399.43 423.78h3.8M399.43 436.38h3.8M403.34 435.37V443.5M401.44 435.37h3.8M401.44 443.5h3.8M405.35 432.72V441.67M403.45 432.72h3.8M403.45 441.67h3.8M407.36 423.17V438.62M405.46 423.17h3.8M405.46 438.62h3.8M409.36 442.89V451.02M407.46 442.89h3.8M407.46 451.02h3.8M411.37 440.65V448.79M409.47 440.65h3.8M409.47 448.79h3.8M413.38 435.98V446.55M411.48 435.98h3.8M411.48 446.55h3.8M415.39 444.72V452.85M413.49 444.72h3.8M413.49 452.85h3.8M417.4 448.18V456.31M415.5 448.18h3.8M415.5 456.31h3.8M419.4 447.36V455.49M417.5 447.36h3.8M417.5 455.49h3.8M421.41 447.77V456.71M419.51 447.77h3.8M419.51 456.71h3.8M423.42 450.41V459.36M421.52 450.41h3.8M421.52 459.36h3.8M425.43 445.33V455.9M423.53 445.33h3.8M423.53 455.9h3.8M427.44 449.19V457.32M425.54 449.19h3.8M425.54 457.32h3.8M429.44 452.24V459.15M427.54 452.24h3.8M427.54 459.15h3.8M431.45 452.24V459.15M429.55 452.24h3.8M429.55 459.15h3.8M433.46 453.46V460.37M431.56 453.46h3.8M431.56 460.37h3.8M435.47 448.79V457.73M433.57 448.79h3.8M433.57 457.73h3.8M437.48 436.38V462M435.58 436.38h3.8M435.58 462h3.8M439.48 441.26V458.34M437.58 441.26h3.8M437.58 458.34h3.8M441.49 453.46V460.37M439.59 453.46h3.8M439.59 460.37h3.8M443.5 441.47V459.36M441.6 441.47h3.8M441.6 459.36h3.8M445.51 453.87V460.78M443.61 453.87h3.8M443.61 460.78h3.8M447.52 455.7V462.61M445.62 455.7h3.8M445.62 462.61h3.8M449.52 447.57V458.14M447.62 447.57h3.8M447.62 458.14h3.8M451.53 452.65V459.56M449.63 452.65h3.8M449.63 459.56h3.8M453.54 456.31V463.22M451.64 456.31h3.8M451.64 463.22h3.8M455.55 455.7V462.61M453.65 455.7h3.8M453.65 462.61h3.8M457.56 452.85V460.98M455.66 452.85h3.8M455.66 460.98h3.8M459.56 460.78V465.66M457.66 460.78h3.8M457.66 465.66h3.8M461.57 435.16V461.19M459.67 435.16h3.8M459.67 461.19h3.8M463.58 462.41V467.29M461.68 462.41h3.8M461.68 467.29h3.8M465.59 463.42V467.49M463.69 463.42h3.8M463.69 467.49h3.8M467.6 448.79V462.61M465.7 448.79h3.8M465.7 462.61h3.8M469.6 456.71V464.85M467.7 456.71h3.8M467.7 464.85h3.8M471.61 455.09V463.22M469.71 455.09h3.8M469.71 463.22h3.8M473.62 455.09V463.22M471.72 455.09h3.8M471.72 463.22h3.8M475.63 460.98V467.9M473.73 460.98h3.8M473.73 467.9h3.8M477.64 446.35V458.95M475.74 446.35h3.8M475.74 458.95h3.8M479.64 457.93V466.07M477.74 457.93h3.8M477.74 466.07h3.8M481.65 441.06V467.08M479.75 441.06h3.8M479.75 467.08h3.8M483.66 458.14V466.27M481.76 458.14h3.8M481.76 466.27h3.8M485.67 463.63V468.51M483.77 463.63h3.8M483.77 468.51h3.8M487.68 452.24V463.63M485.78 452.24h3.8M485.78 463.63h3.8M489.68 464.44V469.32M487.78 464.44h3.8M487.78 469.32h3.8M491.69 461.8V467.9M489.79 461.8h3.8M489.79 467.9h3.8M493.7 460.37V467.29M491.8 460.37h3.8M491.8 467.29h3.8M495.71 462.41V468.51M493.81 462.41h3.8M493.81 468.51h3.8M497.72 461.8V467.9M495.82 461.8h3.8M495.82 467.9h3.8M499.72 456.51V465.46M497.82 456.51h3.8M497.82 465.46h3.8M501.73 443.3V462.41M499.83 443.3h3.8M499.83 462.41h3.8M503.74 458.95V467.08M501.84 458.95h3.8M501.84 467.08h3.8M505.75 464.85V469.73M503.85 464.85h3.8M503.85 469.73h3.8M507.76 454.48V469.93M505.86 454.48h3.8M505.86 469.93h3.8M509.76 464.85V469.73M507.86 464.85h3.8M507.86 469.73h3.8M511.77 462.41V468.51M509.87 462.41h3.8M509.87 468.51h3.8M513.78 464.03V468.91M511.88 464.03h3.8M511.88 468.91h3.8M515.79 464.03V468.91M513.89 464.03h3.8M513.89 468.91h3.8M517.8 466.68V471.56M515.9 466.68h3.8M515.9 471.56h3.8M519.8 459.36V468.3M517.9 459.36h3.8M517.9 468.3h3.8M521.81 464.85V469.73M519.91 464.85h3.8M519.91 469.73h3.8M523.82 465.86V469.93M521.92 465.86h3.8M521.92 469.93h3.8M525.83 466.47V470.54M523.93 466.47h3.8M523.93 470.54h3.8M527.84 450.41V468.3M525.94 450.41h3.8M525.94 468.3h3.8M529.84 464.85V469.73M527.94 464.85h3.8M527.94 469.73h3.8M531.85 464.24V469.12M529.95 464.24h3.8M529.95 469.12h3.8M533.86 465.25V470.13M531.96 465.25h3.8M531.96 470.13h3.8M535.87 460.78V469.73M533.97 460.78h3.8M533.97 469.73h3.8M537.88 463.42V468.3M535.98 463.42h3.8M535.98 468.3h3.8M539.88 463.83V468.71M537.98 463.83h3.8M537.98 468.71h3.8M541.89 455.7V464.24M539.99 455.7h3.8M539.99 464.24h3.8M543.9 462.81V467.69M542 462.81h3.8M542 467.69h3.8M545.91 463.83V468.71M544.01 463.83h3.8M544.01 468.71h3.8M547.92 464.44V469.32M546.02 464.44h3.8M546.02 469.32h3.8M549.92 467.69V471.76M548.02 467.69h3.8M548.02 471.76h3.8M551.93 464.85V469.73M550.03 464.85h3.8M550.03 469.73h3.8M553.94 466.88V470.95M552.04 466.88h3.8M552.04 470.95h3.8M555.95 459.76V468.71M554.05 459.76h3.8M554.05 468.71h3.8M557.96 462.81V467.69M556.06 462.81h3.8M556.06 467.69h3.8M559.96 463.83V468.71M558.06 463.83h3.8M558.06 468.71h3.8M561.97 465.66V469.73M560.07 465.66h3.8M560.07 469.73h3.8M563.98 465.66V469.73M562.08 465.66h3.8M562.08 469.73h3.8M565.99 464.85V469.73M564.09 464.85h3.8M564.09 469.73h3.8M568 464.44V469.32M566.1 464.44h3.8M566.1 469.32h3.8M570 464.44V469.32M568.1 464.44h3.8M568.1 469.32h3.8M572.01 465.66V469.73M570.11 465.66h3.8M570.11 469.73h3.8M574.02 462.61V469.93M572.12 462.61h3.8M572.12 469.93h3.8M576.03 464.85V469.73M574.13 464.85h3.8M574.13 469.73h3.8M578.04 466.27V470.34M576.14 466.27h3.8M576.14 470.34h3.8M580.04 467.29V471.35M578.14 467.29h3.8M578.14 471.35h3.8M582.05 461.8V468.71M580.15 461.8h3.8M580.15 468.71h3.8M584.06 435.57V474.2M582.16 435.57h3.8M582.16 474.2h3.8M586.07 465.66V469.73M584.17 465.66h3.8M584.17 469.73h3.8M588.08 466.68V470.74M586.18 466.68h3.8M586.18 470.74h3.8M590.08 460.58V471.96M588.18 460.58h3.8M588.18 471.96h3.8M592.09 465.66V469.73M590.19 465.66h3.8M590.19 469.73h3.8M594.1 464.85V469.73M592.2 464.85h3.8M592.2 469.73h3.8M596.11 465.66V469.73M594.21 465.66h3.8M594.21 469.73h3.8M598.12 466.27V470.34M596.22 466.27h3.8M596.22 470.34h3.8M600.12 465.86V469.93M598.22 465.86h3.8M598.22 469.93h3.8M602.13 457.12V468.1M600.23 457.12h3.8M600.23 468.1h3.8M604.14 467.69V471.76M602.24 467.69h3.8M602.24 471.76h3.8M606.15 460.58V469.93M604.25 460.58h3.8M604.25 469.93h3.8M608.16 467.29V471.35M606.26 467.29h3.8M606.26 471.35h3.8M610.16 466.68V470.74M608.26 466.68h3.8M608.26 470.74h3.8M612.17 465.66V469.73M610.27 465.66h3.8M610.27 469.73h3.8M614.18 463.83V469.93M612.28 463.83h3.8M612.28 469.93h3.8M616.19 465.86V470.74M614.29 465.86h3.8M614.29 470.74h3.8M618.2 460.58V470.74M616.3 460.58h3.8M616.3 470.74h3.8M620.2 462.81V467.69M618.3 462.81h3.8M618.3 467.69h3.8M622.21 460.58V469.12M620.31 460.58h3.8M620.31 469.12h3.8M624.22 462.81V467.69M622.32 462.81h3.8M622.32 467.69h3.8M626.23 463.83V467.9M624.33 463.83h3.8M624.33 467.9h3.8M628.24 464.85V468.91M626.34 464.85h3.8M626.34 468.91h3.8M630.24 465.66V468.91M628.34 465.66h3.8M628.34 468.91h3.8M632.25 466.27V469.52M630.35 466.27h3.8M630.35 469.52h3.8M634.26 453.87V464.03M632.36 453.87h3.8M632.36 464.03h3.8M636.27 455.9V466.88M634.37 455.9h3.8M634.37 466.88h3.8M638.28 458.14V467.08M636.38 458.14h3.8M636.38 467.08h3.8M640.28 462.81V467.69M638.38 462.81h3.8M638.38 467.69h3.8M642.29 457.73V466.27M640.39 457.73h3.8M640.39 466.27h3.8M644.3 461.39V466.27M642.4 461.39h3.8M642.4 466.27h3.8M646.31 463.22V468.1M644.41 463.22h3.8M644.41 468.1h3.8M648.32 459.56V464.44M646.42 459.56h3.8M646.42 464.44h3.8M650.32 458.95V463.83M648.42 458.95h3.8M648.42 463.83h3.8M652.33 434.76V457.12M650.43 434.76h3.8M650.43 457.12h3.8M654.34 444.31V460.98M652.44 444.31h3.8M652.44 460.98h3.8M656.35 455.9V460.78M654.45 455.9h3.8M654.45 460.78h3.8" stroke="#666" stroke-width="0.75" fill="none"/>
<path class="ax" d="M393.3 278.53V482.33M392.8 482.33H658.36M390.7 482.33H393.3M390.7 462H393.3M390.7 441.67H393.3M390.7 421.34H393.3M390.7 401.01H393.3M390.7 380.68H393.3M390.7 360.35H393.3M390.7 340.02H393.3M390.7 319.69H393.3M390.7 299.36H393.3M390.7 279.03H393.3M393.3 482.33V484.73M413.38 482.33V484.73M433.46 482.33V484.73M453.54 482.33V484.73M473.62 482.33V484.73M493.7 482.33V484.73M513.78 482.33V484.73M533.86 482.33V484.73M553.94 482.33V484.73M574.02 482.33V484.73M594.1 482.33V484.73M614.18 482.33V484.73M634.26 482.33V484.73M654.34 482.33V484.73"/>
<g fill="#5b9bd5" clip-path="url(#cp3)">
<circle cx="393.3" cy="321.72" r="2.05"/>
<circle cx="395.31" cy="399.59" r="2.05"/>
<circle cx="397.32" cy="419.51" r="2.05"/>
<circle cx="399.32" cy="436.18" r="2.05"/>
<circle cx="401.33" cy="430.08" r="2.05"/>
<circle cx="403.34" cy="439.43" r="2.05"/>
<circle cx="405.35" cy="437.2" r="2.05"/>
<circle cx="407.36" cy="430.9" r="2.05"/>
<circle cx="409.36" cy="446.96" r="2.05"/>
<circle cx="411.37" cy="444.72" r="2.05"/>
<circle cx="413.38" cy="441.26" r="2.05"/>
<circle cx="415.39" cy="448.79" r="2.05"/>
<circle cx="417.4" cy="452.24" r="2.05"/>
<circle cx="419.4" cy="451.43" r="2.05"/>
<circle cx="421.41" cy="452.24" r="2.05"/>
<circle cx="423.42" cy="454.88" r="2.05"/>
<circle cx="425.43" cy="450.62" r="2.05"/>
<circle cx="427.44" cy="453.26" r="2.05"/>
<circle cx="429.44" cy="455.7" r="2.05"/>
<circle cx="431.45" cy="455.7" r="2.05"/>
<circle cx="433.46" cy="456.92" r="2.05"/>
<circle cx="435.47" cy="453.26" r="2.05"/>
<circle cx="437.48" cy="449.19" r="2.05"/>
<circle cx="439.48" cy="449.8" r="2.05"/>
<circle cx="441.49" cy="456.92" r="2.05"/>
<circle cx="443.5" cy="450.41" r="2.05"/>
<circle cx="445.51" cy="457.32" r="2.05"/>
<circle cx="447.52" cy="459.15" r="2.05"/>
<circle cx="449.52" cy="452.85" r="2.05"/>
<circle cx="451.53" cy="456.1" r="2.05"/>
<circle cx="453.54" cy="459.76" r="2.05"/>
<circle cx="455.55" cy="459.15" r="2.05"/>
<circle cx="457.56" cy="456.92" r="2.05"/>
<circle cx="459.56" cy="463.22" r="2.05"/>
<circle cx="461.57" cy="448.18" r="2.05"/>
<circle cx="463.58" cy="464.85" r="2.05"/>
<circle cx="465.59" cy="465.46" r="2.05"/>
<circle cx="467.6" cy="455.7" r="2.05"/>
<circle cx="469.6" cy="460.78" r="2.05"/>
<circle cx="471.61" cy="459.15" r="2.05"/>
<circle cx="473.62" cy="459.15" r="2.05"/>
<circle cx="475.63" cy="464.44" r="2.05"/>
<circle cx="477.64" cy="452.65" r="2.05"/>
<circle cx="479.64" cy="462" r="2.05"/>
<circle cx="481.65" cy="454.07" r="2.05"/>
<circle cx="483.66" cy="462.2" r="2.05"/>
<circle cx="485.67" cy="466.07" r="2.05"/>
<circle cx="487.68" cy="457.93" r="2.05"/>
<circle cx="489.68" cy="466.88" r="2.05"/>
<circle cx="491.69" cy="464.85" r="2.05"/>
<circle cx="493.7" cy="463.83" r="2.05"/>
<circle cx="495.71" cy="465.46" r="2.05"/>
<circle cx="497.72" cy="464.85" r="2.05"/>
<circle cx="499.72" cy="460.98" r="2.05"/>
<circle cx="501.73" cy="452.85" r="2.05"/>
<circle cx="503.74" cy="463.02" r="2.05"/>
<circle cx="505.75" cy="467.29" r="2.05"/>
<circle cx="507.76" cy="462.2" r="2.05"/>
<circle cx="509.76" cy="467.29" r="2.05"/>
<circle cx="511.77" cy="465.46" r="2.05"/>
<circle cx="513.78" cy="466.47" r="2.05"/>
<circle cx="515.79" cy="466.47" r="2.05"/>
<circle cx="517.8" cy="469.12" r="2.05"/>
<circle cx="519.8" cy="463.83" r="2.05"/>
<circle cx="521.81" cy="467.29" r="2.05"/>
<circle cx="523.82" cy="467.9" r="2.05"/>
<circle cx="525.83" cy="468.51" r="2.05"/>
<circle cx="527.84" cy="459.36" r="2.05"/>
<circle cx="529.84" cy="467.29" r="2.05"/>
<circle cx="531.85" cy="466.68" r="2.05"/>
<circle cx="533.86" cy="467.69" r="2.05"/>
<circle cx="535.87" cy="465.25" r="2.05"/>
<circle cx="537.88" cy="465.86" r="2.05"/>
<circle cx="539.88" cy="466.27" r="2.05"/>
<circle cx="541.89" cy="459.97" r="2.05"/>
<circle cx="543.9" cy="465.25" r="2.05"/>
<circle cx="545.91" cy="466.27" r="2.05"/>
<circle cx="547.92" cy="466.88" r="2.05"/>
<circle cx="549.92" cy="469.73" r="2.05"/>
<circle cx="551.93" cy="467.29" r="2.05"/>
<circle cx="553.94" cy="468.91" r="2.05"/>
<circle cx="555.95" cy="464.24" r="2.05"/>
<circle cx="557.96" cy="465.25" r="2.05"/>
<circle cx="559.96" cy="466.27" r="2.05"/>
<circle cx="561.97" cy="467.69" r="2.05"/>
<circle cx="563.98" cy="467.69" r="2.05"/>
<circle cx="565.99" cy="467.29" r="2.05"/>
<circle cx="568" cy="466.88" r="2.05"/>
<circle cx="570" cy="466.88" r="2.05"/>
<circle cx="572.01" cy="467.69" r="2.05"/>
<circle cx="574.02" cy="466.27" r="2.05"/>
<circle cx="576.03" cy="467.29" r="2.05"/>
<circle cx="578.04" cy="468.3" r="2.05"/>
<circle cx="580.04" cy="469.32" r="2.05"/>
<circle cx="582.05" cy="465.25" r="2.05"/>
<circle cx="584.06" cy="454.88" r="2.05"/>
<circle cx="586.07" cy="467.69" r="2.05"/>
<circle cx="588.08" cy="468.71" r="2.05"/>
<circle cx="590.08" cy="466.27" r="2.05"/>
<circle cx="592.09" cy="467.69" r="2.05"/>
<circle cx="594.1" cy="467.29" r="2.05"/>
<circle cx="596.11" cy="467.69" r="2.05"/>
<circle cx="598.12" cy="468.3" r="2.05"/>
<circle cx="600.12" cy="467.9" r="2.05"/>
<circle cx="602.13" cy="462.61" r="2.05"/>
<circle cx="604.14" cy="469.73" r="2.05"/>
<circle cx="606.15" cy="465.25" r="2.05"/>
<circle cx="608.16" cy="469.32" r="2.05"/>
<circle cx="610.16" cy="468.71" r="2.05"/>
<circle cx="612.17" cy="467.69" r="2.05"/>
<circle cx="614.18" cy="466.88" r="2.05"/>
<circle cx="616.19" cy="468.3" r="2.05"/>
<circle cx="618.2" cy="465.66" r="2.05"/>
<circle cx="620.2" cy="465.25" r="2.05"/>
<circle cx="622.21" cy="464.85" r="2.05"/>
<circle cx="624.22" cy="465.25" r="2.05"/>
<circle cx="626.23" cy="465.86" r="2.05"/>
<circle cx="628.24" cy="466.88" r="2.05"/>
<circle cx="630.24" cy="467.29" r="2.05"/>
<circle cx="632.25" cy="467.9" r="2.05"/>
<circle cx="634.26" cy="458.95" r="2.05"/>
<circle cx="636.27" cy="461.39" r="2.05"/>
<circle cx="638.28" cy="462.61" r="2.05"/>
<circle cx="640.28" cy="465.25" r="2.05"/>
<circle cx="642.29" cy="462" r="2.05"/>
<circle cx="644.3" cy="463.83" r="2.05"/>
<circle cx="646.31" cy="465.66" r="2.05"/>
<circle cx="648.32" cy="462" r="2.05"/>
<circle cx="650.32" cy="461.39" r="2.05"/>
<circle cx="652.33" cy="445.94" r="2.05"/>
<circle cx="654.34" cy="452.65" r="2.05"/>
<circle cx="656.35" cy="458.34" r="2.05"/>
</g>
<g class="tk" text-anchor="end">
<text x="387.6" y="484.38">0</text>
<text x="387.6" y="464.05">0.1</text>
<text x="387.6" y="443.72">0.2</text>
<text x="387.6" y="423.39">0.3</text>
<text x="387.6" y="403.06">0.4</text>
<text x="387.6" y="382.73">0.5</text>
<text x="387.6" y="362.4">0.6</text>
<text x="387.6" y="342.07">0.7</text>
<text x="387.6" y="321.74">0.8</text>
<text x="387.6" y="301.41">0.9</text>
<text x="387.6" y="281.08">1</text>
</g><g class="tk" text-anchor="middle">
<text x="393.9" y="492.28">0</text>
<text x="413.98" y="492.28">10</text>
<text x="434.06" y="492.28">20</text>
<text x="454.14" y="492.28">30</text>
<text x="474.22" y="492.28">40</text>
<text x="494.3" y="492.28">50</text>
<text x="514.38" y="492.28">60</text>
<text x="534.46" y="492.28">70</text>
<text x="554.54" y="492.28">80</text>
<text x="574.62" y="492.28">90</text>
<text x="594.7" y="492.28">100</text>
<text x="614.78" y="492.28">110</text>
<text x="634.86" y="492.28">120</text>
<text x="654.94" y="492.28">130</text>
</g>
</g>
<text class="ti" x="452.6" y="288.7" textLength="108" lengthAdjust="spacingAndGlyphs">Long noncoding RNAS</text>
<text class="lo" x="405.6" y="336.2" textLength="79.9" lengthAdjust="spacingAndGlyphs">Lowest missingness</text>
<text class="hi" x="596.1" y="336.2" textLength="67.5" lengthAdjust="spacingAndGlyphs">Highest missingness</text>
<text class="at" transform="translate(361.7 419.5) rotate(-90)" textLength="81.8" lengthAdjust="spacingAndGlyphs">Mean expression level</text>
<text class="at" x="480.3" y="507.2" textLength="102.1" lengthAdjust="spacingAndGlyphs">Number of missing values</text>
<g id="c4">
<clipPath id="cp4"><rect x="48.5" y="538.03" width="271.06" height="203.8"/></clipPath>
<path clip-path="url(#cp4)" d="M51.5 545.15V571.57M49.6 545.15h3.8M49.6 571.57h3.8M53.51 612.64V632.97M51.61 612.64h3.8M51.61 632.97h3.8M55.52 627.48V653.91M53.62 627.48h3.8M53.62 653.91h3.8M57.52 661.23V675.87M55.62 661.23h3.8M55.62 675.87h3.8M59.53 658.18V682.17M57.63 658.18h3.8M57.63 682.17h3.8M61.54 662.65V685.02M59.64 662.65h3.8M59.64 685.02h3.8M63.55 649.64V680.14M61.65 649.64h3.8M61.65 680.14h3.8M65.56 646.39V686.24M63.66 646.39h3.8M63.66 686.24h3.8M67.56 678.31V693.35M65.66 678.31h3.8M65.66 693.35h3.8M69.57 656.55V689.08M67.67 656.55h3.8M67.67 689.08h3.8M71.58 678.31V693.35M69.68 678.31h3.8M69.68 693.35h3.8M73.59 679.32V698.03M71.69 679.32h3.8M71.69 698.03h3.8M75.6 667.33V691.72M73.7 667.33h3.8M73.7 691.72h3.8M77.6 651.47V690.91M75.7 651.47h3.8M75.7 690.91h3.8M79.61 678.31V697.01M77.71 678.31h3.8M77.71 697.01h3.8M81.62 683.59V708.8M79.72 683.59h3.8M79.72 708.8h3.8M83.63 595.56V703.31M81.73 595.56h3.8M81.73 703.31h3.8M85.64 688.27V708.19M83.74 688.27h3.8M83.74 708.19h3.8M87.64 686.03V701.48M85.74 686.03h3.8M85.74 701.48h3.8M89.65 681.97V705.55M87.75 681.97h3.8M87.75 705.55h3.8M91.66 688.07V701.08M89.76 688.07h3.8M89.76 701.08h3.8M93.67 692.74V711.85M91.77 692.74h3.8M91.77 711.85h3.8M95.68 698.43V712.26M93.78 698.43h3.8M93.78 712.26h3.8M97.68 677.7V701.69M95.78 677.7h3.8M95.78 701.69h3.8M99.69 646.59V714.49M97.79 646.59h3.8M97.79 714.49h3.8M101.7 682.17V710.23M99.8 682.17h3.8M99.8 710.23h3.8M103.71 677.29V711.04M101.81 677.29h3.8M101.81 711.04h3.8M105.72 676.68V707.99M103.82 676.68h3.8M103.82 707.99h3.8M107.72 679.53V710.84M105.82 679.53h3.8M105.82 710.84h3.8M109.73 645.17V710.23M107.83 645.17h3.8M107.83 710.23h3.8M111.74 687.66V708.8M109.84 687.66h3.8M109.84 708.8h3.8M113.75 678.31V706.36M111.85 678.31h3.8M111.85 706.36h3.8M115.76 703.72V717.95M113.86 703.72h3.8M113.86 717.95h3.8M117.76 661.84V709.41M115.86 661.84h3.8M115.86 709.41h3.8M119.77 680.14V709.01M117.87 680.14h3.8M117.87 709.01h3.8M121.78 697.82V714.9M119.88 697.82h3.8M119.88 714.9h3.8M123.79 706.16V717.14M121.89 706.16h3.8M121.89 717.14h3.8M125.8 680.54V717.95M123.9 680.54h3.8M123.9 717.95h3.8M127.8 699.25V717.95M125.9 699.25h3.8M125.9 717.95h3.8M129.81 701.28V720.39M127.91 701.28h3.8M127.91 720.39h3.8M131.82 683.8V722.83M129.92 683.8h3.8M129.92 722.83h3.8M133.83 701.28V719.17M131.93 701.28h3.8M131.93 719.17h3.8M135.84 701.28V718.36M133.94 701.28h3.8M133.94 718.36h3.8M137.84 694.37V715.51M135.94 694.37h3.8M135.94 715.51h3.8M139.85 708.8V728.32M137.95 708.8h3.8M137.95 728.32h3.8M141.86 696.81V712.26M139.96 696.81h3.8M139.96 712.26h3.8M143.87 712.26V726.49M141.97 712.26h3.8M141.97 726.49h3.8M145.88 711.24V724.25M143.98 711.24h3.8M143.98 724.25h3.8M147.88 704.33V723.03M145.98 704.33h3.8M145.98 723.03h3.8M149.89 703.31V717.95M147.99 703.31h3.8M147.99 717.95h3.8M151.9 696.6V724.66M150 696.6h3.8M150 724.66h3.8M153.91 698.23V723.03M152.01 698.23h3.8M152.01 723.03h3.8M155.92 683.8V723.24M154.02 683.8h3.8M154.02 723.24h3.8M157.92 702.3V718.97M156.02 702.3h3.8M156.02 718.97h3.8M159.93 708.8V728.32M158.03 708.8h3.8M158.03 728.32h3.8M161.94 709.41V723.24M160.04 709.41h3.8M160.04 723.24h3.8M163.95 709.21V721.41M162.05 709.21h3.8M162.05 721.41h3.8M165.96 708.19V721.2M164.06 708.19h3.8M164.06 721.2h3.8M167.96 707.38V721.2M166.06 707.38h3.8M166.06 721.2h3.8M169.97 704.74V720.59M168.07 704.74h3.8M168.07 720.59h3.8M171.98 700.26V718.97M170.08 700.26h3.8M170.08 718.97h3.8M173.99 710.23V721.61M172.09 710.23h3.8M172.09 721.61h3.8M176 711.85V722.02M174.1 711.85h3.8M174.1 722.02h3.8M178 700.06V718.36M176.1 700.06h3.8M176.1 718.36h3.8M180.01 701.89V718.56M178.11 701.89h3.8M178.11 718.56h3.8M182.02 713.27V723.44M180.12 713.27h3.8M180.12 723.44h3.8M184.03 717.75V726.69M182.13 717.75h3.8M182.13 726.69h3.8M186.04 711.24V722.63M184.14 711.24h3.8M184.14 722.63h3.8M188.04 709.82V722.83M186.14 709.82h3.8M186.14 722.83h3.8M190.05 705.35V723.24M188.15 705.35h3.8M188.15 723.24h3.8M192.06 706.36V721M190.16 706.36h3.8M190.16 721h3.8M194.07 694.37V714.29M192.17 694.37h3.8M192.17 714.29h3.8M196.08 714.29V724.46M194.18 714.29h3.8M194.18 724.46h3.8M198.08 716.73V725.68M196.18 716.73h3.8M196.18 725.68h3.8M200.09 698.64V720.59M198.19 698.64h3.8M198.19 720.59h3.8M202.1 710.23V720.39M200.2 710.23h3.8M200.2 720.39h3.8M204.11 710.23V721.2M202.21 710.23h3.8M202.21 721.2h3.8M206.12 716.73V725.68M204.22 716.73h3.8M204.22 725.68h3.8M208.12 716.32V725.27M206.22 716.32h3.8M206.22 725.27h3.8M210.13 712.05V723.44M208.23 712.05h3.8M208.23 723.44h3.8M212.14 705.75V727.71M210.24 705.75h3.8M210.24 727.71h3.8M214.15 710.43V725.07M212.25 710.43h3.8M212.25 725.07h3.8M216.16 717.54V725.68M214.26 717.54h3.8M214.26 725.68h3.8M218.16 725.47V730.35M216.26 725.47h3.8M216.26 730.35h3.8M220.17 713.27V725.47M218.27 713.27h3.8M218.27 725.47h3.8M222.18 714.29V724.46M220.28 714.29h3.8M220.28 724.46h3.8M224.19 699.65V719.58M222.29 699.65h3.8M222.29 719.58h3.8M226.2 718.15V726.29M224.3 718.15h3.8M224.3 726.29h3.8M228.2 716.12V727.51M226.3 716.12h3.8M226.3 727.51h3.8M230.21 717.14V726.08M228.31 717.14h3.8M228.31 726.08h3.8M232.22 715.31V726.29M230.32 715.31h3.8M230.32 726.29h3.8M234.23 629.31V730.56M232.33 629.31h3.8M232.33 730.56h3.8M236.24 716.32V724.46M234.34 716.32h3.8M234.34 724.46h3.8M238.24 716.32V725.27M236.34 716.32h3.8M236.34 725.27h3.8M240.25 683.8V726.9M238.35 683.8h3.8M238.35 726.9h3.8M242.26 690.1V725.07M240.36 690.1h3.8M240.36 725.07h3.8M244.27 705.75V722.83M242.37 705.75h3.8M242.37 722.83h3.8M246.28 719.17V727.3M244.38 719.17h3.8M244.38 727.3h3.8M248.28 706.36V722.22M246.38 706.36h3.8M246.38 722.22h3.8M250.29 716.73V725.68M248.39 716.73h3.8M248.39 725.68h3.8M252.3 718.15V726.29M250.4 718.15h3.8M250.4 726.29h3.8M254.31 724.46V729.34M252.41 724.46h3.8M252.41 729.34h3.8M256.32 714.29V726.49M254.42 714.29h3.8M254.42 726.49h3.8M258.32 716.73V725.68M256.42 716.73h3.8M256.42 725.68h3.8M260.33 714.29V723.64M258.43 714.29h3.8M258.43 723.64h3.8M262.34 717.75V726.69M260.44 717.75h3.8M260.44 726.69h3.8M264.35 715.31V725.47M262.45 715.31h3.8M262.45 725.47h3.8M266.36 714.29V723.64M264.46 714.29h3.8M264.46 723.64h3.8M268.36 703.31V719.98M266.46 703.31h3.8M266.46 719.98h3.8M270.37 691.52V728.12M268.47 691.52h3.8M268.47 728.12h3.8M272.38 711.65V723.85M270.48 711.65h3.8M270.48 723.85h3.8M274.39 685.63V723.44M272.49 685.63h3.8M272.49 723.44h3.8M276.4 708.19V719.17M274.5 708.19h3.8M274.5 719.17h3.8M278.4 713.27V723.44M276.5 713.27h3.8M276.5 723.44h3.8M280.41 712.66V722.83M278.51 712.66h3.8M278.51 722.83h3.8M282.42 709.62V718.97M280.52 709.62h3.8M280.52 718.97h3.8M284.43 712.87V721.81M282.53 712.87h3.8M282.53 721.81h3.8M286.44 712.26V721.2M284.54 712.26h3.8M284.54 721.2h3.8M288.44 709.62V719.78M286.54 709.62h3.8M286.54 719.78h3.8M290.45 699.86V719.37M288.55 699.86h3.8M288.55 719.37h3.8M292.46 704.74V716.93M290.56 704.74h3.8M290.56 716.93h3.8M294.47 705.14V717.34M292.57 705.14h3.8M292.57 717.34h3.8M296.48 706.16V716.32M294.58 706.16h3.8M294.58 716.32h3.8M298.48 698.84V712.66M296.58 698.84h3.8M296.58 712.66h3.8M300.49 700.87V715.51M298.59 700.87h3.8M298.59 715.51h3.8M302.5 706.16V716.32M300.6 706.16h3.8M300.6 716.32h3.8M304.51 668.55V702.7M302.61 668.55h3.8M302.61 702.7h3.8M306.52 671.6V697.62M304.62 671.6h3.8M304.62 697.62h3.8M308.52 672.21V698.23M306.62 672.21h3.8M306.62 698.23h3.8M310.53 665.3V687.25M308.63 665.3h3.8M308.63 687.25h3.8M312.54 616.71V661.03M310.64 616.71h3.8M310.64 661.03h3.8M314.55 615.69V646.59M312.65 615.69h3.8M312.65 646.59h3.8" stroke="#666" stroke-width="0.75" fill="none"/>
<path class="ax" d="M51.5 537.53V741.33M51 741.33H316.56M48.9 741.33H51.5M48.9 721H51.5M48.9 700.67H51.5M48.9 680.34H51.5M48.9 660.01H51.5M48.9 639.68H51.5M48.9 619.35H51.5M48.9 599.02H51.5M48.9 578.69H51.5M48.9 558.36H51.5M48.9 538.03H51.5M51.5 741.33V743.73M71.58 741.33V743.73M91.66 741.33V743.73M111.74 741.33V743.73M131.82 741.33V743.73M151.9 741.33V743.73M171.98 741.33V743.73M192.06 741.33V743.73M212.14 741.33V743.73M232.22 741.33V743.73M252.3 741.33V743.73M272.38 741.33V743.73M292.46 741.33V743.73M312.54 741.33V743.73"/>
<g fill="#5b9bd5" clip-path="url(#cp4)">
<circle cx="51.5" cy="558.36" r="2.05"/>
<circle cx="53.51" cy="622.81" r="2.05"/>
<circle cx="55.52" cy="640.7" r="2.05"/>
<circle cx="57.52" cy="668.55" r="2.05"/>
<circle cx="59.53" cy="670.18" r="2.05"/>
<circle cx="61.54" cy="673.83" r="2.05"/>
<circle cx="63.55" cy="664.89" r="2.05"/>
<circle cx="65.56" cy="666.31" r="2.05"/>
<circle cx="67.56" cy="685.83" r="2.05"/>
<circle cx="69.57" cy="672.82" r="2.05"/>
<circle cx="71.58" cy="685.83" r="2.05"/>
<circle cx="73.59" cy="688.68" r="2.05"/>
<circle cx="75.6" cy="679.53" r="2.05"/>
<circle cx="77.6" cy="671.19" r="2.05"/>
<circle cx="79.61" cy="687.66" r="2.05"/>
<circle cx="81.62" cy="696.2" r="2.05"/>
<circle cx="83.63" cy="649.44" r="2.05"/>
<circle cx="85.64" cy="698.23" r="2.05"/>
<circle cx="87.64" cy="693.76" r="2.05"/>
<circle cx="89.65" cy="693.76" r="2.05"/>
<circle cx="91.66" cy="694.57" r="2.05"/>
<circle cx="93.67" cy="702.3" r="2.05"/>
<circle cx="95.68" cy="705.35" r="2.05"/>
<circle cx="97.68" cy="689.69" r="2.05"/>
<circle cx="99.69" cy="680.54" r="2.05"/>
<circle cx="101.7" cy="696.2" r="2.05"/>
<circle cx="103.71" cy="694.16" r="2.05"/>
<circle cx="105.72" cy="692.33" r="2.05"/>
<circle cx="107.72" cy="695.18" r="2.05"/>
<circle cx="109.73" cy="677.7" r="2.05"/>
<circle cx="111.74" cy="698.23" r="2.05"/>
<circle cx="113.75" cy="692.33" r="2.05"/>
<circle cx="115.76" cy="710.84" r="2.05"/>
<circle cx="117.76" cy="685.63" r="2.05"/>
<circle cx="119.77" cy="694.57" r="2.05"/>
<circle cx="121.78" cy="706.36" r="2.05"/>
<circle cx="123.79" cy="711.65" r="2.05"/>
<circle cx="125.8" cy="699.25" r="2.05"/>
<circle cx="127.8" cy="708.6" r="2.05"/>
<circle cx="129.81" cy="710.84" r="2.05"/>
<circle cx="131.82" cy="703.31" r="2.05"/>
<circle cx="133.83" cy="710.23" r="2.05"/>
<circle cx="135.84" cy="709.82" r="2.05"/>
<circle cx="137.84" cy="704.94" r="2.05"/>
<circle cx="139.85" cy="718.56" r="2.05"/>
<circle cx="141.86" cy="704.53" r="2.05"/>
<circle cx="143.87" cy="719.37" r="2.05"/>
<circle cx="145.88" cy="717.75" r="2.05"/>
<circle cx="147.88" cy="713.68" r="2.05"/>
<circle cx="149.89" cy="710.63" r="2.05"/>
<circle cx="151.9" cy="710.63" r="2.05"/>
<circle cx="153.91" cy="710.63" r="2.05"/>
<circle cx="155.92" cy="703.52" r="2.05"/>
<circle cx="157.92" cy="710.63" r="2.05"/>
<circle cx="159.93" cy="718.56" r="2.05"/>
<circle cx="161.94" cy="716.32" r="2.05"/>
<circle cx="163.95" cy="715.31" r="2.05"/>
<circle cx="165.96" cy="714.7" r="2.05"/>
<circle cx="167.96" cy="714.29" r="2.05"/>
<circle cx="169.97" cy="712.66" r="2.05"/>
<circle cx="171.98" cy="709.62" r="2.05"/>
<circle cx="173.99" cy="715.92" r="2.05"/>
<circle cx="176" cy="716.93" r="2.05"/>
<circle cx="178" cy="709.21" r="2.05"/>
<circle cx="180.01" cy="710.23" r="2.05"/>
<circle cx="182.02" cy="718.36" r="2.05"/>
<circle cx="184.03" cy="722.22" r="2.05"/>
<circle cx="186.04" cy="716.93" r="2.05"/>
<circle cx="188.04" cy="716.32" r="2.05"/>
<circle cx="190.05" cy="714.29" r="2.05"/>
<circle cx="192.06" cy="713.68" r="2.05"/>
<circle cx="194.07" cy="704.33" r="2.05"/>
<circle cx="196.08" cy="719.37" r="2.05"/>
<circle cx="198.08" cy="721.2" r="2.05"/>
<circle cx="200.09" cy="709.62" r="2.05"/>
<circle cx="202.1" cy="715.31" r="2.05"/>
<circle cx="204.11" cy="715.71" r="2.05"/>
<circle cx="206.12" cy="721.2" r="2.05"/>
<circle cx="208.12" cy="720.8" r="2.05"/>
<circle cx="210.13" cy="717.75" r="2.05"/>
<circle cx="212.14" cy="716.73" r="2.05"/>
<circle cx="214.15" cy="717.75" r="2.05"/>
<circle cx="216.16" cy="721.61" r="2.05"/>
<circle cx="218.16" cy="727.91" r="2.05"/>
<circle cx="220.17" cy="719.37" r="2.05"/>
<circle cx="222.18" cy="719.37" r="2.05"/>
<circle cx="224.19" cy="709.62" r="2.05"/>
<circle cx="226.2" cy="722.22" r="2.05"/>
<circle cx="228.2" cy="721.81" r="2.05"/>
<circle cx="230.21" cy="721.61" r="2.05"/>
<circle cx="232.22" cy="720.8" r="2.05"/>
<circle cx="234.23" cy="679.93" r="2.05"/>
<circle cx="236.24" cy="720.39" r="2.05"/>
<circle cx="238.24" cy="720.8" r="2.05"/>
<circle cx="240.25" cy="705.35" r="2.05"/>
<circle cx="242.26" cy="707.58" r="2.05"/>
<circle cx="244.27" cy="714.29" r="2.05"/>
<circle cx="246.28" cy="723.24" r="2.05"/>
<circle cx="248.28" cy="714.29" r="2.05"/>
<circle cx="250.29" cy="721.2" r="2.05"/>
<circle cx="252.3" cy="722.22" r="2.05"/>
<circle cx="254.31" cy="726.9" r="2.05"/>
<circle cx="256.32" cy="720.39" r="2.05"/>
<circle cx="258.32" cy="721.2" r="2.05"/>
<circle cx="260.33" cy="718.97" r="2.05"/>
<circle cx="262.34" cy="722.22" r="2.05"/>
<circle cx="264.35" cy="720.39" r="2.05"/>
<circle cx="266.36" cy="718.97" r="2.05"/>
<circle cx="268.36" cy="711.65" r="2.05"/>
<circle cx="270.37" cy="709.82" r="2.05"/>
<circle cx="272.38" cy="717.75" r="2.05"/>
<circle cx="274.39" cy="704.53" r="2.05"/>
<circle cx="276.4" cy="713.68" r="2.05"/>
<circle cx="278.4" cy="718.36" r="2.05"/>
<circle cx="280.41" cy="717.75" r="2.05"/>
<circle cx="282.42" cy="714.29" r="2.05"/>
<circle cx="284.43" cy="717.34" r="2.05"/>
<circle cx="286.44" cy="716.73" r="2.05"/>
<circle cx="288.44" cy="714.7" r="2.05"/>
<circle cx="290.45" cy="709.62" r="2.05"/>
<circle cx="292.46" cy="710.84" r="2.05"/>
<circle cx="294.47" cy="711.24" r="2.05"/>
<circle cx="296.48" cy="711.24" r="2.05"/>
<circle cx="298.48" cy="705.75" r="2.05"/>
<circle cx="300.49" cy="708.19" r="2.05"/>
<circle cx="302.5" cy="711.24" r="2.05"/>
<circle cx="304.51" cy="685.63" r="2.05"/>
<circle cx="306.52" cy="684.61" r="2.05"/>
<circle cx="308.52" cy="685.22" r="2.05"/>
<circle cx="310.53" cy="676.27" r="2.05"/>
<circle cx="312.54" cy="638.87" r="2.05"/>
<circle cx="314.55" cy="631.14" r="2.05"/>
</g>
<g class="tk" text-anchor="end">
<text x="45.8" y="743.38">0</text>
<text x="45.8" y="723.05">0.1</text>
<text x="45.8" y="702.72">0.2</text>
<text x="45.8" y="682.39">0.3</text>
<text x="45.8" y="662.06">0.4</text>
<text x="45.8" y="641.73">0.5</text>
<text x="45.8" y="621.4">0.6</text>
<text x="45.8" y="601.07">0.7</text>
<text x="45.8" y="580.74">0.8</text>
<text x="45.8" y="560.41">0.9</text>
<text x="45.8" y="540.08">1</text>
</g><g class="tk" text-anchor="middle">
<text x="52.1" y="751.28">0</text>
<text x="72.18" y="751.28">10</text>
<text x="92.26" y="751.28">20</text>
<text x="112.34" y="751.28">30</text>
<text x="132.42" y="751.28">40</text>
<text x="152.5" y="751.28">50</text>
<text x="172.58" y="751.28">60</text>
<text x="192.66" y="751.28">70</text>
<text x="212.74" y="751.28">80</text>
<text x="232.82" y="751.28">90</text>
<text x="252.9" y="751.28">100</text>
<text x="272.98" y="751.28">110</text>
<text x="293.06" y="751.28">120</text>
<text x="313.14" y="751.28">130</text>
</g>
</g>
<text class="ti" x="110.8" y="547.7" textLength="117.5" lengthAdjust="spacingAndGlyphs">Processed pseudogenes</text>
<text class="lo" x="64" y="595.2" textLength="79.9" lengthAdjust="spacingAndGlyphs">Lowest missingness</text>
<text class="hi" x="254.5" y="595.2" textLength="67.5" lengthAdjust="spacingAndGlyphs">Highest missingness</text>
<text class="at" transform="translate(20.1 678.5) rotate(-90)" textLength="81.8" lengthAdjust="spacingAndGlyphs">Mean expression level</text>
<text class="at" x="138.7" y="766.2" textLength="102.1" lengthAdjust="spacingAndGlyphs">Number of missing values</text>
<g id="c5">
<clipPath id="cp5"><rect x="390.3" y="538.03" width="271.06" height="203.8"/></clipPath>
<path clip-path="url(#cp5)" d="M395.31 606.75V667.74M393.41 606.75h3.8M393.41 667.74h3.8M397.32 595.56V696.81M395.42 595.56h3.8M395.42 696.81h3.8M399.32 285.12V709.62M397.42 285.12h3.8M397.42 709.62h3.8M401.33 609.39V685.02M399.43 609.39h3.8M399.43 685.02h3.8M403.34 686.24V710.23M401.44 686.24h3.8M401.44 710.23h3.8M405.35 701.28V713.48M403.45 701.28h3.8M403.45 713.48h3.8M407.36 544.54V725.47M405.46 544.54h3.8M405.46 725.47h3.8M409.36 690.5V708.8M407.46 690.5h3.8M407.46 708.8h3.8M411.37 626.87V726.9M409.47 626.87h3.8M409.47 726.9h3.8M413.38 620.37V713.88M411.48 620.37h3.8M411.48 713.88h3.8M415.39 595.77V722.22M413.49 595.77h3.8M413.49 722.22h3.8M417.4 663.26V722.63M415.5 663.26h3.8M415.5 722.63h3.8M419.4 679.93V726.69M417.5 679.93h3.8M417.5 726.69h3.8M421.41 650.66V708.4M419.51 650.66h3.8M419.51 708.4h3.8M423.42 427.84V717.34M421.52 427.84h3.8M421.52 717.34h3.8M425.43 510.58V795.2M423.53 510.58h3.8M423.53 795.2h3.8M427.44 446.75V705.35M425.54 446.75h3.8M425.54 705.35h3.8M429.44 698.03V720.39M427.54 698.03h3.8M427.54 720.39h3.8M431.45 673.02V726.29M429.55 673.02h3.8M429.55 726.29h3.8M433.46 669.36V705.96M431.56 669.36h3.8M431.56 705.96h3.8M435.47 660.62V733.81M433.57 660.62h3.8M433.57 733.81h3.8M437.48 730.76V734.01M435.58 730.76h3.8M435.58 734.01h3.8M439.48 704.53V716.73M437.58 704.53h3.8M437.58 716.73h3.8M441.49 639.48V732.18M439.59 639.48h3.8M439.59 732.18h3.8M443.5 709.21V718.15M441.6 709.21h3.8M441.6 718.15h3.8M445.51 712.46V729.54M443.61 712.46h3.8M443.61 729.54h3.8M447.52 616.1V731.17M445.62 616.1h3.8M445.62 731.17h3.8M449.52 650.45V738.69M447.62 650.45h3.8M447.62 738.69h3.8M451.53 705.75V730.96M449.63 705.75h3.8M449.63 730.96h3.8M453.54 676.48V728.12M451.64 676.48h3.8M451.64 728.12h3.8M455.55 720.19V727.51M453.65 720.19h3.8M453.65 727.51h3.8M457.56 725.27V730.15M455.66 725.27h3.8M455.66 730.15h3.8M459.56 663.67V726.69M457.66 663.67h3.8M457.66 726.69h3.8M461.57 710.23V722.42M459.67 710.23h3.8M459.67 722.42h3.8M463.58 730.35V733.6M461.68 730.35h3.8M461.68 733.6h3.8M465.59 696.81V739.09M463.69 696.81h3.8M463.69 739.09h3.8M467.6 720.8V728.93M465.7 720.8h3.8M465.7 728.93h3.8M469.6 729.34V732.59M467.7 729.34h3.8M467.7 732.59h3.8M471.61 723.24V729.34M469.71 723.24h3.8M469.71 729.34h3.8M473.62 689.29V723.44M471.72 689.29h3.8M471.72 723.44h3.8M475.63 684.2V730.56M473.73 684.2h3.8M473.73 730.56h3.8M477.64 730.15V733.4M475.74 730.15h3.8M475.74 733.4h3.8M479.64 695.18V726.49M477.74 695.18h3.8M477.74 726.49h3.8M481.65 697.82V733.6M479.75 697.82h3.8M479.75 733.6h3.8M483.66 674.65V731.17M481.76 674.65h3.8M481.76 731.17h3.8M485.67 694.77V735.03M483.77 694.77h3.8M483.77 735.03h3.8M487.68 722.63V731.98M485.78 722.63h3.8M485.78 731.98h3.8M489.68 719.78V731.98M487.78 719.78h3.8M487.78 731.98h3.8M491.69 672.21V744.99M489.79 672.21h3.8M489.79 744.99h3.8M493.7 725.27V733.4M491.8 725.27h3.8M491.8 733.4h3.8M495.71 571.57V756.58M493.81 571.57h3.8M493.81 756.58h3.8M497.72 730.35V735.23M495.82 730.35h3.8M495.82 735.23h3.8M499.72 652.89V742.35M497.82 652.89h3.8M497.82 742.35h3.8M501.73 714.29V724.46M499.83 714.29h3.8M499.83 724.46h3.8M503.74 707.58V727.1M501.84 707.58h3.8M501.84 727.1h3.8M505.75 691.72V728.73M503.85 691.72h3.8M503.85 728.73h3.8M507.76 719.78V733.6M505.86 719.78h3.8M505.86 733.6h3.8M509.76 640.7V727.71M507.86 640.7h3.8M507.86 727.71h3.8M511.77 690.71V719.17M509.87 690.71h3.8M509.87 719.17h3.8M513.78 712.26V735.43M511.88 712.26h3.8M511.88 735.43h3.8M515.79 725.27V733.4M513.89 725.27h3.8M513.89 733.4h3.8M517.8 727.91V736.04M515.9 727.91h3.8M515.9 736.04h3.8M519.8 724.66V732.79M517.9 724.66h3.8M517.9 732.79h3.8M521.81 641.51V727.71M519.91 641.51h3.8M519.91 727.71h3.8M523.82 713.27V732.38M521.92 713.27h3.8M521.92 732.38h3.8M525.83 671.6V724.86M523.93 671.6h3.8M523.93 724.86h3.8M527.84 708.6V737.87M525.94 708.6h3.8M525.94 737.87h3.8M529.84 730.96V735.84M527.94 730.96h3.8M527.94 735.84h3.8M531.85 692.74V732.59M529.95 692.74h3.8M529.95 732.59h3.8M533.86 353.84V760.44M531.96 353.84h3.8M531.96 760.44h3.8M535.87 713.88V726.08M533.97 713.88h3.8M533.97 726.08h3.8M537.88 702.7V731.17M535.98 702.7h3.8M535.98 731.17h3.8M539.88 716.53V728.73M537.98 716.53h3.8M537.98 728.73h3.8M541.89 732.38V735.64M539.99 732.38h3.8M539.99 735.64h3.8M543.9 724.25V732.38M542 724.25h3.8M542 732.38h3.8M545.91 716.32V733.4M544.01 716.32h3.8M544.01 733.4h3.8M547.92 718.76V730.96M546.02 718.76h3.8M546.02 730.96h3.8M549.92 706.77V734.01M548.02 706.77h3.8M548.02 734.01h3.8M551.93 722.83V730.96M550.03 722.83h3.8M550.03 730.96h3.8M553.94 731.37V735.43M552.04 731.37h3.8M552.04 735.43h3.8M555.95 721.61V731.77M554.05 721.61h3.8M554.05 731.77h3.8M557.96 728.32V733.2M556.06 728.32h3.8M556.06 733.2h3.8M559.96 693.55V728.12M558.06 693.55h3.8M558.06 728.12h3.8M561.97 567.51V756.98M560.07 567.51h3.8M560.07 756.98h3.8M563.98 722.22V730.35M562.08 722.22h3.8M562.08 730.35h3.8M565.99 724.66V732.79M564.09 724.66h3.8M564.09 732.79h3.8M568 720.8V730.96M566.1 720.8h3.8M566.1 730.96h3.8M570 726.29V732.38M568.1 726.29h3.8M568.1 732.38h3.8M572.01 730.35V735.23M570.11 730.35h3.8M570.11 735.23h3.8M574.02 726.9V732.99M572.12 726.9h3.8M572.12 732.99h3.8M576.03 707.58V732.38M574.13 707.58h3.8M574.13 732.38h3.8M578.04 728.93V733.81M576.14 728.93h3.8M576.14 733.81h3.8M580.04 641.71V744.18M578.14 641.71h3.8M578.14 744.18h3.8M582.05 722.63V730.76M580.15 722.63h3.8M580.15 730.76h3.8M584.06 713.68V731.57M582.16 713.68h3.8M582.16 731.57h3.8M586.07 704.74V729.95M584.17 704.74h3.8M584.17 729.95h3.8M588.08 711.44V730.15M586.18 711.44h3.8M586.18 730.15h3.8M590.08 729.74V733.81M588.18 729.74h3.8M588.18 733.81h3.8M592.09 702.7V730.76M590.19 702.7h3.8M590.19 730.76h3.8M594.1 727.51V732.38M592.2 727.51h3.8M592.2 732.38h3.8M596.11 640.49V747.02M594.21 640.49h3.8M594.21 747.02h3.8M598.12 716.53V728.73M596.22 716.53h3.8M596.22 728.73h3.8M600.12 723.24V731.37M598.22 723.24h3.8M598.22 731.37h3.8M602.13 703.52V734.01M600.23 703.52h3.8M600.23 734.01h3.8M604.14 723.64V731.77M602.24 723.64h3.8M602.24 731.77h3.8M606.15 708.8V729.13M604.25 708.8h3.8M604.25 729.13h3.8M608.16 728.32V733.2M606.26 728.32h3.8M606.26 733.2h3.8M610.16 715.31V729.13M608.26 715.31h3.8M608.26 729.13h3.8M612.17 724.25V732.38M610.27 724.25h3.8M610.27 732.38h3.8M614.18 725.27V733.4M612.28 725.27h3.8M612.28 733.4h3.8M616.19 699.86V726.69M614.29 699.86h3.8M614.29 726.69h3.8M618.2 687.46V735.03M616.3 687.46h3.8M616.3 735.03h3.8M620.2 715.31V731.17M618.3 715.31h3.8M618.3 731.17h3.8M622.21 728.32V733.2M620.31 728.32h3.8M620.31 733.2h3.8M624.22 694.57V723.03M622.32 694.57h3.8M622.32 723.03h3.8M626.23 705.35V726.08M624.33 705.35h3.8M624.33 726.08h3.8M628.24 722.22V730.35M626.34 722.22h3.8M626.34 730.35h3.8M630.24 717.14V729.34M628.34 717.14h3.8M628.34 729.34h3.8M632.25 673.43V725.07M630.35 673.43h3.8M630.35 725.07h3.8M634.26 705.75V722.02M632.36 705.75h3.8M632.36 722.02h3.8M636.27 685.83V726.9M634.37 685.83h3.8M634.37 726.9h3.8M638.28 713.48V727.3M636.38 713.48h3.8M636.38 727.3h3.8M640.28 714.49V727.51M638.38 714.49h3.8M638.38 727.51h3.8M642.29 716.32V727.3M640.39 716.32h3.8M640.39 727.3h3.8M644.3 717.54V727.71M642.4 717.54h3.8M642.4 727.71h3.8M646.31 718.76V727.71M644.41 718.76h3.8M644.41 727.71h3.8M648.32 693.76V721M646.42 693.76h3.8M646.42 721h3.8M650.32 657.16V722.22M648.42 657.16h3.8M648.42 722.22h3.8M652.33 682.58V726.9M650.43 682.58h3.8M650.43 726.9h3.8M654.34 691.11V709.41M652.44 691.11h3.8M652.44 709.41h3.8M656.35 653.5V691.72M654.45 653.5h3.8M654.45 691.72h3.8" stroke="#666" stroke-width="0.75" fill="none"/>
<path class="ax" d="M393.3 537.53V741.33M392.8 741.33H658.36M390.7 741.33H393.3M390.7 721H393.3M390.7 700.67H393.3M390.7 680.34H393.3M390.7 660.01H393.3M390.7 639.68H393.3M390.7 619.35H393.3M390.7 599.02H393.3M390.7 578.69H393.3M390.7 558.36H393.3M390.7 538.03H393.3M393.3 741.33V743.73M413.38 741.33V743.73M433.46 741.33V743.73M453.54 741.33V743.73M473.62 741.33V743.73M493.7 741.33V743.73M513.78 741.33V743.73M533.86 741.33V743.73M553.94 741.33V743.73M574.02 741.33V743.73M594.1 741.33V743.73M614.18 741.33V743.73M634.26 741.33V743.73M654.34 741.33V743.73"/>
<g fill="#5b9bd5" clip-path="url(#cp5)">
<circle cx="395.31" cy="637.24" r="2.05"/>
<circle cx="397.32" cy="646.19" r="2.05"/>
<circle cx="401.33" cy="647.2" r="2.05"/>
<circle cx="403.34" cy="698.23" r="2.05"/>
<circle cx="405.35" cy="707.38" r="2.05"/>
<circle cx="407.36" cy="635" r="2.05"/>
<circle cx="409.36" cy="699.65" r="2.05"/>
<circle cx="411.37" cy="676.88" r="2.05"/>
<circle cx="413.38" cy="667.13" r="2.05"/>
<circle cx="415.39" cy="658.99" r="2.05"/>
<circle cx="417.4" cy="692.94" r="2.05"/>
<circle cx="419.4" cy="703.31" r="2.05"/>
<circle cx="421.41" cy="679.53" r="2.05"/>
<circle cx="423.42" cy="572.59" r="2.05"/>
<circle cx="425.43" cy="652.89" r="2.05"/>
<circle cx="427.44" cy="576.05" r="2.05"/>
<circle cx="429.44" cy="709.21" r="2.05"/>
<circle cx="431.45" cy="699.65" r="2.05"/>
<circle cx="433.46" cy="687.66" r="2.05"/>
<circle cx="435.47" cy="697.21" r="2.05"/>
<circle cx="437.48" cy="732.38" r="2.05"/>
<circle cx="439.48" cy="710.63" r="2.05"/>
<circle cx="441.49" cy="685.83" r="2.05"/>
<circle cx="443.5" cy="713.68" r="2.05"/>
<circle cx="445.51" cy="721" r="2.05"/>
<circle cx="447.52" cy="673.63" r="2.05"/>
<circle cx="449.52" cy="694.57" r="2.05"/>
<circle cx="451.53" cy="718.36" r="2.05"/>
<circle cx="453.54" cy="702.3" r="2.05"/>
<circle cx="455.55" cy="723.85" r="2.05"/>
<circle cx="457.56" cy="727.71" r="2.05"/>
<circle cx="459.56" cy="695.18" r="2.05"/>
<circle cx="461.57" cy="716.32" r="2.05"/>
<circle cx="463.58" cy="731.98" r="2.05"/>
<circle cx="465.59" cy="717.95" r="2.05"/>
<circle cx="467.6" cy="724.86" r="2.05"/>
<circle cx="469.6" cy="730.96" r="2.05"/>
<circle cx="471.61" cy="726.29" r="2.05"/>
<circle cx="473.62" cy="706.36" r="2.05"/>
<circle cx="475.63" cy="707.38" r="2.05"/>
<circle cx="477.64" cy="731.77" r="2.05"/>
<circle cx="479.64" cy="710.84" r="2.05"/>
<circle cx="481.65" cy="715.71" r="2.05"/>
<circle cx="483.66" cy="702.91" r="2.05"/>
<circle cx="485.67" cy="714.9" r="2.05"/>
<circle cx="487.68" cy="727.3" r="2.05"/>
<circle cx="489.68" cy="725.88" r="2.05"/>
<circle cx="491.69" cy="708.6" r="2.05"/>
<circle cx="493.7" cy="729.34" r="2.05"/>
<circle cx="495.71" cy="664.08" r="2.05"/>
<circle cx="497.72" cy="732.79" r="2.05"/>
<circle cx="499.72" cy="697.62" r="2.05"/>
<circle cx="501.73" cy="719.37" r="2.05"/>
<circle cx="503.74" cy="717.34" r="2.05"/>
<circle cx="505.75" cy="710.23" r="2.05"/>
<circle cx="507.76" cy="726.69" r="2.05"/>
<circle cx="509.76" cy="684.2" r="2.05"/>
<circle cx="511.77" cy="704.94" r="2.05"/>
<circle cx="513.78" cy="723.85" r="2.05"/>
<circle cx="515.79" cy="729.34" r="2.05"/>
<circle cx="517.8" cy="731.98" r="2.05"/>
<circle cx="519.8" cy="728.73" r="2.05"/>
<circle cx="521.81" cy="684.61" r="2.05"/>
<circle cx="523.82" cy="722.83" r="2.05"/>
<circle cx="525.83" cy="698.23" r="2.05"/>
<circle cx="527.84" cy="723.24" r="2.05"/>
<circle cx="529.84" cy="733.4" r="2.05"/>
<circle cx="531.85" cy="712.66" r="2.05"/>
<circle cx="533.86" cy="557.14" r="2.05"/>
<circle cx="535.87" cy="719.98" r="2.05"/>
<circle cx="537.88" cy="716.93" r="2.05"/>
<circle cx="539.88" cy="722.63" r="2.05"/>
<circle cx="541.89" cy="734.01" r="2.05"/>
<circle cx="543.9" cy="728.32" r="2.05"/>
<circle cx="545.91" cy="724.86" r="2.05"/>
<circle cx="547.92" cy="724.86" r="2.05"/>
<circle cx="549.92" cy="720.39" r="2.05"/>
<circle cx="551.93" cy="726.9" r="2.05"/>
<circle cx="553.94" cy="733.4" r="2.05"/>
<circle cx="555.95" cy="726.69" r="2.05"/>
<circle cx="557.96" cy="730.76" r="2.05"/>
<circle cx="559.96" cy="710.84" r="2.05"/>
<circle cx="561.97" cy="662.25" r="2.05"/>
<circle cx="563.98" cy="726.29" r="2.05"/>
<circle cx="565.99" cy="728.73" r="2.05"/>
<circle cx="568" cy="725.88" r="2.05"/>
<circle cx="570" cy="729.34" r="2.05"/>
<circle cx="572.01" cy="732.79" r="2.05"/>
<circle cx="574.02" cy="729.95" r="2.05"/>
<circle cx="576.03" cy="719.98" r="2.05"/>
<circle cx="578.04" cy="731.37" r="2.05"/>
<circle cx="580.04" cy="692.94" r="2.05"/>
<circle cx="582.05" cy="726.69" r="2.05"/>
<circle cx="584.06" cy="722.63" r="2.05"/>
<circle cx="586.07" cy="717.34" r="2.05"/>
<circle cx="588.08" cy="720.8" r="2.05"/>
<circle cx="590.08" cy="731.77" r="2.05"/>
<circle cx="592.09" cy="716.73" r="2.05"/>
<circle cx="594.1" cy="729.95" r="2.05"/>
<circle cx="596.11" cy="693.76" r="2.05"/>
<circle cx="598.12" cy="722.63" r="2.05"/>
<circle cx="600.12" cy="727.3" r="2.05"/>
<circle cx="602.13" cy="718.76" r="2.05"/>
<circle cx="604.14" cy="727.71" r="2.05"/>
<circle cx="606.15" cy="718.97" r="2.05"/>
<circle cx="608.16" cy="730.76" r="2.05"/>
<circle cx="610.16" cy="722.22" r="2.05"/>
<circle cx="612.17" cy="728.32" r="2.05"/>
<circle cx="614.18" cy="729.34" r="2.05"/>
<circle cx="616.19" cy="713.27" r="2.05"/>
<circle cx="618.2" cy="711.24" r="2.05"/>
<circle cx="620.2" cy="723.24" r="2.05"/>
<circle cx="622.21" cy="730.76" r="2.05"/>
<circle cx="624.22" cy="708.8" r="2.05"/>
<circle cx="626.23" cy="715.71" r="2.05"/>
<circle cx="628.24" cy="726.29" r="2.05"/>
<circle cx="630.24" cy="723.24" r="2.05"/>
<circle cx="632.25" cy="699.25" r="2.05"/>
<circle cx="634.26" cy="713.88" r="2.05"/>
<circle cx="636.27" cy="706.36" r="2.05"/>
<circle cx="638.28" cy="720.39" r="2.05"/>
<circle cx="640.28" cy="721" r="2.05"/>
<circle cx="642.29" cy="721.81" r="2.05"/>
<circle cx="644.3" cy="722.63" r="2.05"/>
<circle cx="646.31" cy="723.24" r="2.05"/>
<circle cx="648.32" cy="707.38" r="2.05"/>
<circle cx="650.32" cy="689.69" r="2.05"/>
<circle cx="652.33" cy="704.74" r="2.05"/>
<circle cx="654.34" cy="700.26" r="2.05"/>
<circle cx="656.35" cy="672.61" r="2.05"/>
</g>
<g class="tk" text-anchor="end">
<text x="387.6" y="743.38">0</text>
<text x="387.6" y="723.05">0.1</text>
<text x="387.6" y="702.72">0.2</text>
<text x="387.6" y="682.39">0.3</text>
<text x="387.6" y="662.06">0.4</text>
<text x="387.6" y="641.73">0.5</text>
<text x="387.6" y="621.4">0.6</text>
<text x="387.6" y="601.07">0.7</text>
<text x="387.6" y="580.74">0.8</text>
<text x="387.6" y="560.41">0.9</text>
<text x="387.6" y="540.08">1</text>
</g><g class="tk" text-anchor="middle">
<text x="393.9" y="751.28">0</text>
<text x="413.98" y="751.28">10</text>
<text x="434.06" y="751.28">20</text>
<text x="454.14" y="751.28">30</text>
<text x="474.22" y="751.28">40</text>
<text x="494.3" y="751.28">50</text>
<text x="514.38" y="751.28">60</text>
<text x="534.46" y="751.28">70</text>
<text x="554.54" y="751.28">80</text>
<text x="574.62" y="751.28">90</text>
<text x="594.7" y="751.28">100</text>
<text x="614.78" y="751.28">110</text>
<text x="634.86" y="751.28">120</text>
<text x="654.94" y="751.28">130</text>
</g>
</g>
<text class="ti" x="452.8" y="547.7" textLength="131" lengthAdjust="spacingAndGlyphs">Unprocessed pseudogenes</text>
<text class="lo" x="405.6" y="595.2" textLength="79.9" lengthAdjust="spacingAndGlyphs">Lowest missingness</text>
<text class="hi" x="596.1" y="595.2" textLength="67.5" lengthAdjust="spacingAndGlyphs">Highest missingness</text>
<text class="at" transform="translate(361.7 678.5) rotate(-90)" textLength="81.8" lengthAdjust="spacingAndGlyphs">Mean expression level</text>
<text class="at" x="480.3" y="766.2" textLength="102.1" lengthAdjust="spacingAndGlyphs">Number of missing values</text>
</svg></body></html>
